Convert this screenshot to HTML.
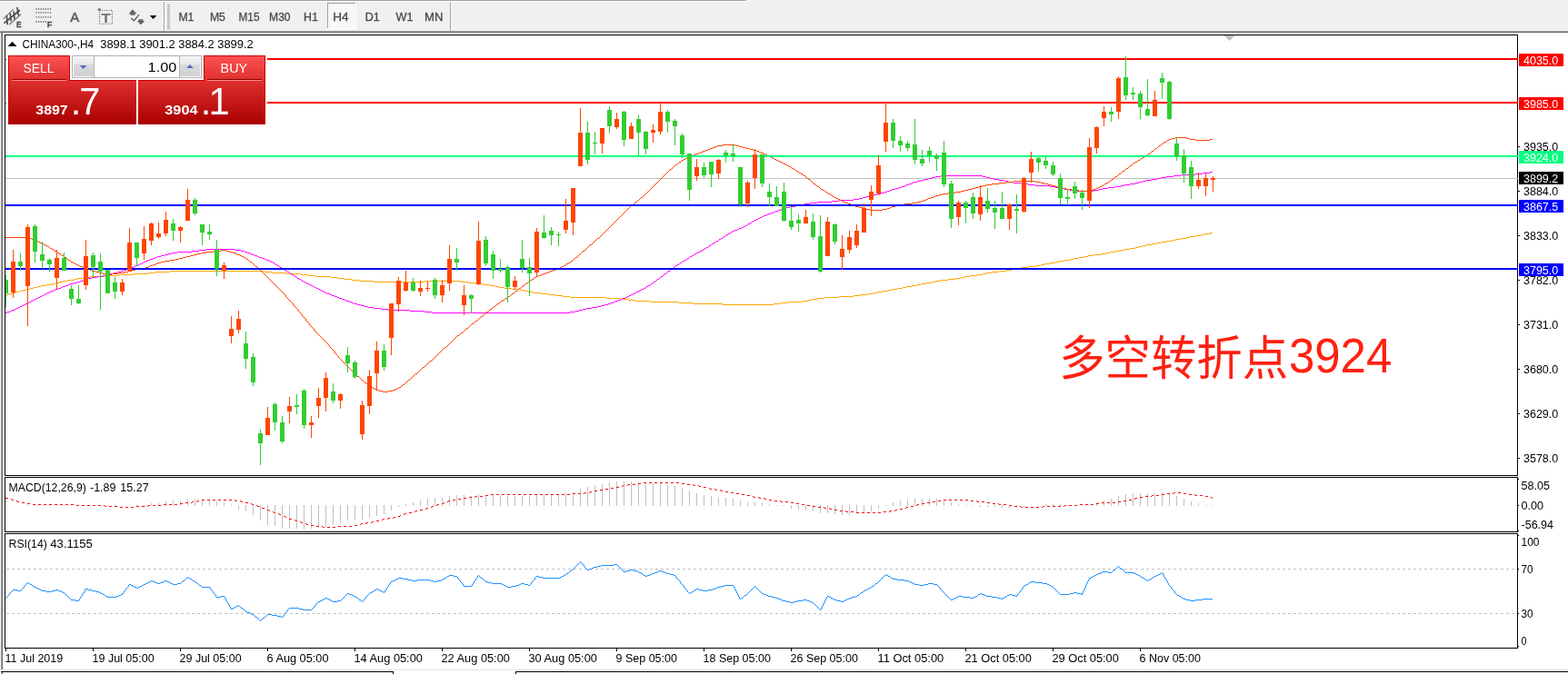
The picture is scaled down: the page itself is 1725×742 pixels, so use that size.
<!DOCTYPE html>
<html lang="zh"><head><meta charset="utf-8"><title>CHINA300-,H4</title>
<style>html,body{margin:0;padding:0;background:#fff;}body{width:1725px;height:742px;overflow:hidden;}svg{display:block;font-family:"Liberation Sans","Noto Sans CJK SC",sans-serif;}.c{shape-rendering:crispEdges;}</style></head><body>
<svg width="1725" height="742" viewBox="0 0 1725 742">
<defs><linearGradient id="gr" x1="0" y1="0" x2="0" y2="1"><stop offset="0" stop-color="#ff5252"/><stop offset="0.36" stop-color="#e03030"/><stop offset="1" stop-color="#aa0000"/></linearGradient><linearGradient id="gb" x1="0" y1="0" x2="0" y2="1"><stop offset="0" stop-color="#f3f3f3"/><stop offset="0.36" stop-color="#e8e8e8"/><stop offset="0.4" stop-color="#dadada"/><stop offset="1" stop-color="#d0d0d0"/></linearGradient><pattern id="chk" width="2" height="2" patternUnits="userSpaceOnUse"><rect width="2" height="2" fill="#f0f0f0"/><rect width="1" height="1" fill="#fff"/><rect x="1" y="1" width="1" height="1" fill="#fff"/></pattern></defs>
<g class="c">
<rect x="0" y="0" width="1725" height="742" fill="#fff"/>
<rect x="0" y="0" width="1725" height="34" fill="#f0f0f0"/>
<rect x="0" y="0" width="821" height="1" fill="#a0a0a0"/>
<rect x="0" y="1" width="822" height="1" fill="#fff"/>
<rect x="821" y="0" width="1" height="2" fill="#fff"/>
<rect x="0" y="34" width="1725" height="1" fill="#a0a0a0"/>
<rect x="0" y="35" width="1725" height="1" fill="#696969"/>
<rect x="0" y="36" width="1" height="702" fill="#f0f0f0"/>
<rect x="1" y="36" width="1" height="701" fill="#a0a0a0"/>
<rect x="2" y="36" width="1" height="701" fill="#696969"/>
<rect x="3" y="737" width="1722" height="1" fill="#e3e3e3"/>
<rect x="3" y="740" width="429" height="2" fill="#f0f0f0"/>
<rect x="568" y="740" width="1157" height="2" fill="#f0f0f0"/>
<rect x="3" y="740" width="429" height="1" fill="#fbfbfb"/>
<rect x="568" y="740" width="1157" height="1" fill="#fbfbfb"/>
<rect x="1" y="739" width="432" height="1" fill="#000"/>
<rect x="567" y="739" width="1158" height="1" fill="#000"/>
<rect x="432" y="739" width="1" height="3" fill="#000"/>
<rect x="567" y="739" width="1" height="3" fill="#000"/>
<rect x="1" y="740" width="1" height="2" fill="#a0a0a0"/>
<rect x="2" y="740" width="1" height="2" fill="#696969"/>
</g>
<g id="toolbar">
<g class="c">
<rect x="180" y="2" width="1" height="32" fill="#a0a0a0"/><rect x="181" y="2" width="1" height="32" fill="#fff"/>
<rect x="495" y="2" width="1" height="32" fill="#a0a0a0"/><rect x="496" y="2" width="1" height="32" fill="#fff"/>
<g fill="#a0a0a0">
<rect x="184" y="5" width="3" height="1"/><rect x="184" y="7" width="3" height="1"/><rect x="184" y="9" width="3" height="1"/><rect x="184" y="11" width="3" height="1"/><rect x="184" y="13" width="3" height="1"/><rect x="184" y="15" width="3" height="1"/><rect x="184" y="17" width="3" height="1"/><rect x="184" y="19" width="3" height="1"/><rect x="184" y="21" width="3" height="1"/><rect x="184" y="23" width="3" height="1"/><rect x="184" y="25" width="3" height="1"/><rect x="184" y="27" width="3" height="1"/><rect x="184" y="29" width="3" height="1"/><rect x="184" y="31" width="3" height="1"/>
</g>
<rect x="360" y="3" width="31" height="29" fill="url(#chk)"/>
<rect x="360" y="3" width="31" height="1" fill="#a0a0a0"/><rect x="360" y="3" width="1" height="29" fill="#a0a0a0"/>
<rect x="360" y="31" width="32" height="1" fill="#fff"/><rect x="391" y="3" width="1" height="29" fill="#fff"/>
</g>
<g font-size="12.1" fill="#4a4a4a" stroke="#4a4a4a" stroke-width="0.3">
<text x="196.4" y="23.2" textLength="17" lengthAdjust="spacingAndGlyphs">M1</text>
<text x="230.9" y="23.2" textLength="17" lengthAdjust="spacingAndGlyphs">M5</text>
<text x="262.5" y="23.2" textLength="23" lengthAdjust="spacingAndGlyphs">M15</text>
<text x="296.1" y="23.2" textLength="23.5" lengthAdjust="spacingAndGlyphs">M30</text>
<text x="334" y="23.2" textLength="15.8" lengthAdjust="spacingAndGlyphs">H1</text>
<text x="366.2" y="23.2" textLength="17.3" lengthAdjust="spacingAndGlyphs">H4</text>
<text x="401.7" y="23.2" textLength="16" lengthAdjust="spacingAndGlyphs">D1</text>
<text x="435.6" y="23.2" textLength="19" lengthAdjust="spacingAndGlyphs">W1</text>
<text x="467" y="23.2" textLength="20.4" lengthAdjust="spacingAndGlyphs">MN</text>
</g>
<!-- icon 1: equidistant channel -->
<g fill="none" stroke-linecap="round">
<path d="M3.9 20.5 L14.6 10.3" stroke="#8c8c8c" stroke-width="1.2"/>
<path d="M10.5 26.7 L22.7 15.9" stroke="#777" stroke-width="1.3"/>
<path d="M5 25.2 L21.4 11.5" stroke="#4e4e4e" stroke-width="1.7"/>
<path d="M7.4 17.6 L8.1 26.4 M11.3 15 L12 22.7 M15.2 13.2 L15.9 20.6 M19 8.6 L20.2 16.6" stroke="#4e4e4e" stroke-width="1.7"/>
</g>
<text x="17.9" y="29.6" font-size="9" font-weight="bold" fill="#4c4c4c" stroke="#4c4c4c" stroke-width="0.3" textLength="5.6" lengthAdjust="spacingAndGlyphs">E</text>
<!-- icon 2: fibo -->
<g stroke="#777" stroke-width="1.8" stroke-dasharray="1.2 1.39" fill="none">
<path d="M39.4 10 H56.5 M39.4 13.9 H56.5 M39.4 18.8 H56.5 M39.4 24 H51"/>
</g>
<text x="51.8" y="29.6" font-size="9" font-weight="bold" fill="#4c4c4c" stroke="#4c4c4c" stroke-width="0.3" textLength="5.6" lengthAdjust="spacingAndGlyphs">F</text>
<!-- icon 3: A -->
<text x="77.2" y="24.2" font-size="15.2" fill="#5e5e5e" stroke="#5e5e5e" stroke-width="0.6" textLength="9.9" lengthAdjust="spacingAndGlyphs">A</text>
<!-- icon 4: T label -->
<rect x="109.5" y="11.5" width="14" height="14.8" fill="none" stroke="#5a5a5a" stroke-width="1.1" stroke-dasharray="1 1.5"/>
<rect x="107.7" y="9.4" width="3" height="2.2" fill="#666"/>
<text x="111.3" y="24.6" font-size="14.7" font-weight="bold" fill="#757575" textLength="10.6" lengthAdjust="spacingAndGlyphs">T</text>
<!-- icon 5: arrows -->
<g fill="#666">
<polygon points="141.4,15.2 145.9,10.3 150.4,15.2 148.4,15.2 148.4,16.7 143.4,16.7 143.4,15.2"/>
<polygon points="150.7,23 159.3,23 154.9,27.3"/><rect x="152.6" y="21.2" width="4.8" height="2"/>
<path d="M144.3 20.2 L147.5 22.8 L152.9 16.1" stroke="#666" stroke-width="1.5" fill="none"/>
</g>
<polygon points="164.7,17 172.4,17 168.55,21.1" fill="#000"/>
</g>

<g class="c">
<rect x="5" y="38" width="1665" height="1" fill="#000"/>
<rect x="5" y="38" width="1" height="486" fill="#000"/>
<rect x="1669" y="38" width="1" height="486" fill="#000"/>
<rect x="5" y="525" width="1" height="61" fill="#000"/>
<rect x="1669" y="525" width="1" height="61" fill="#000"/>
<rect x="5" y="587" width="1" height="127" fill="#000"/>
<rect x="1669" y="587" width="1" height="127" fill="#000"/>
<rect x="5" y="523" width="1665" height="1" fill="#000"/>
<rect x="5" y="525" width="1665" height="1" fill="#000"/>
<rect x="5" y="585" width="1665" height="1" fill="#000"/>
<rect x="5" y="587" width="1665" height="1" fill="#000"/>
<rect x="5" y="713" width="1665" height="1" fill="#000"/>
<polygon points="1346,39 1358,39 1352,45" fill="#c0c0c0"/>
<rect x="6" y="196" width="1664" height="1" fill="#c0c0c0"/>
<g>
<path d="M1331 256.5h3M1325 257.5h6M1321 258.5h4M1315 259.5h6M1309 260.5h6M1305 261.5h4M1299 262.5h6M1293 263.5h6M1289 264.5h4M1283 265.5h6M1277 266.5h6M1273 267.5h4M1267 268.5h6M1261 269.5h6M1257 270.5h4M1253 271.5h4M1249 272.5h4M1243 273.5h6M1237 274.5h6M1233 275.5h4M1227 276.5h6M1221 277.5h6M1217 278.5h4M1211 279.5h6M1203 280.5h8M1197 281.5h6M1193 282.5h4M1187 283.5h6M1181 284.5h6M1177 285.5h4M1171 286.5h6M1165 287.5h6M1161 288.5h4M1155 289.5h6M1149 290.5h6M1145 291.5h4M1139 292.5h6M1131 293.5h8M1123 294.5h8M1117 295.5h6M1113 296.5h4M1107 297.5h6M187 298.5h104M1099 298.5h8M171 299.5h16M291 299.5h8M1091 299.5h8M163 300.5h8M299 300.5h16M1085 300.5h6M147 301.5h16M315 301.5h16M1081 301.5h4M131 302.5h16M331 302.5h8M1075 302.5h6M115 303.5h16M339 303.5h8M1067 303.5h8M99 304.5h16M347 304.5h16M1061 304.5h6M91 305.5h8M363 305.5h8M1057 305.5h4M85 306.5h6M371 306.5h8M1051 306.5h6M81 307.5h4M379 307.5h8M1043 307.5h8M75 308.5h6M387 308.5h8M1035 308.5h8M69 309.5h6M395 309.5h16M467 309.5h40M1029 309.5h6M65 310.5h4M411 310.5h56M507 310.5h8M1025 310.5h4M61 311.5h4M515 311.5h8M1019 311.5h6M57 312.5h4M523 312.5h8M1013 312.5h6M51 313.5h6M531 313.5h8M1009 313.5h4M45 314.5h6M539 314.5h6M1003 314.5h6M41 315.5h4M545 315.5h4M997 315.5h6M37 316.5h4M549 316.5h6M993 316.5h4M33 317.5h4M555 317.5h8M987 317.5h6M29 318.5h4M563 318.5h8M981 318.5h6M25 319.5h4M571 319.5h6M977 319.5h4M21 320.5h4M577 320.5h4M971 320.5h6M17 321.5h4M581 321.5h6M965 321.5h6M13 322.5h4M587 322.5h8M961 322.5h4M9 323.5h4M595 323.5h8M955 323.5h6M6 324.5h3M603 324.5h8M947 324.5h8M611 325.5h8M939 325.5h8M619 326.5h8M923 326.5h16M627 327.5h40M907 327.5h16M667 328.5h16M899 328.5h8M683 329.5h8M893 329.5h6M691 330.5h8M889 330.5h4M699 331.5h16M883 331.5h6M715 332.5h32M867 332.5h16M747 333.5h16M859 333.5h8M763 334.5h32M851 334.5h8M795 335.5h56" fill="none" stroke="#ffa500" stroke-width="1"/>
<path d="M1331 189.5h3M1323 190.5h8M1315 191.5h8M1299 192.5h16M1035 193.5h46M1291 193.5h8M1029 194.5h6M1081 194.5h4M1283 194.5h8M1025 195.5h4M1085 195.5h4M1277 195.5h6M1021 196.5h4M1089 196.5h4M1273 196.5h4M1017 197.5h4M1093 197.5h6M1267 197.5h6M1013 198.5h4M1099 198.5h6M1261 198.5h6M1009 199.5h4M1105 199.5h4M1257 199.5h4M1005 200.5h4M1109 200.5h6M1253 200.5h4M1003 201.5h2M1115 201.5h8M1249 201.5h4M1000 202.5h3M1123 202.5h8M1243 202.5h6M997 203.5h3M1131 203.5h8M1237 203.5h6M995 204.5h2M1139 204.5h16M1233 204.5h4M992 205.5h3M1155 205.5h6M1227 205.5h6M989 206.5h3M1161 206.5h4M1219 206.5h8M985 207.5h4M1165 207.5h6M1213 207.5h6M981 208.5h4M1171 208.5h6M1209 208.5h4M979 209.5h2M1177 209.5h4M1203 209.5h6M976 210.5h3M1181 210.5h22M973 211.5h3M969 212.5h4M965 213.5h4M961 214.5h4M957 215.5h4M953 216.5h4M949 217.5h4M945 218.5h4M939 219.5h6M923 220.5h16M915 221.5h8M899 222.5h16M891 223.5h8M885 224.5h6M881 225.5h4M875 226.5h6M869 227.5h6M865 228.5h4M861 229.5h4M859 230.5h2M856 231.5h3M853 232.5h3M851 233.5h2M848 234.5h3M845 235.5h3M843 236.5h2M840 237.5h3M838 238.5h2M836 239.5h2M834 240.5h2M832 241.5h2M830 242.5h2M828 243.5h2M827 244.5h1M825 245.5h2M823 246.5h2M822 247.5h1M820 248.5h2M818 249.5h2M816 250.5h2M813 251.5h3M811 252.5h2M808 253.5h3M806 254.5h2M804 255.5h2M803 256.5h1M801 257.5h2M799 258.5h2M798 259.5h1M796 260.5h2M795 261.5h1M793 262.5h2M791 263.5h2M790 264.5h1M788 265.5h2M787 266.5h1M785 267.5h2M783 268.5h2M782 269.5h1M780 270.5h2M779 271.5h1M777 272.5h2M775 273.5h2M227 274.5h32M774 274.5h1M219 275.5h8M259 275.5h6M772 275.5h2M211 276.5h8M265 276.5h4M770 276.5h2M195 277.5h16M269 277.5h3M768 277.5h2M189 278.5h6M272 278.5h3M766 278.5h2M185 279.5h4M275 279.5h2M764 279.5h2M181 280.5h4M277 280.5h3M763 280.5h1M177 281.5h4M280 281.5h3M761 281.5h2M173 282.5h4M283 282.5h2M759 282.5h2M171 283.5h2M285 283.5h3M758 283.5h1M168 284.5h3M288 284.5h3M756 284.5h2M165 285.5h3M291 285.5h2M755 285.5h1M163 286.5h2M293 286.5h3M753 286.5h2M160 287.5h3M296 287.5h2M751 287.5h2M158 288.5h2M298 288.5h2M750 288.5h1M156 289.5h2M300 289.5h2M748 289.5h2M154 290.5h2M302 290.5h1M747 290.5h1M152 291.5h2M303 291.5h2M745 291.5h2M149 292.5h3M305 292.5h2M743 292.5h2M147 293.5h2M307 293.5h1M742 293.5h1M144 294.5h3M308 294.5h2M741 294.5h1M141 295.5h3M310 295.5h1M739 295.5h2M139 296.5h2M311 296.5h2M738 296.5h1M136 297.5h3M313 297.5h2M737 297.5h1M133 298.5h3M315 298.5h1M735 298.5h2M129 299.5h4M316 299.5h2M734 299.5h1M125 300.5h4M318 300.5h1M733 300.5h1M121 301.5h4M319 301.5h2M731 301.5h2M117 302.5h4M321 302.5h2M730 302.5h1M113 303.5h4M323 303.5h1M729 303.5h1M107 304.5h6M324 304.5h2M727 304.5h2M101 305.5h6M326 305.5h1M726 305.5h1M97 306.5h4M327 306.5h2M725 306.5h1M93 307.5h4M329 307.5h2M723 307.5h2M91 308.5h2M331 308.5h1M722 308.5h1M88 309.5h3M332 309.5h2M721 309.5h1M85 310.5h3M334 310.5h2M719 310.5h2M81 311.5h4M336 311.5h2M718 311.5h1M77 312.5h4M338 312.5h2M716 312.5h2M75 313.5h2M340 313.5h2M715 313.5h1M72 314.5h3M342 314.5h2M713 314.5h2M69 315.5h3M344 315.5h2M711 315.5h2M67 316.5h2M346 316.5h2M710 316.5h1M64 317.5h3M348 317.5h2M708 317.5h2M61 318.5h3M350 318.5h2M706 318.5h2M59 319.5h2M352 319.5h2M704 319.5h2M56 320.5h3M354 320.5h2M702 320.5h2M54 321.5h2M356 321.5h2M700 321.5h2M52 322.5h2M358 322.5h2M698 322.5h2M50 323.5h2M360 323.5h3M696 323.5h2M48 324.5h2M363 324.5h2M694 324.5h2M46 325.5h2M365 325.5h3M692 325.5h2M44 326.5h2M368 326.5h3M690 326.5h2M42 327.5h2M371 327.5h2M688 327.5h2M40 328.5h2M373 328.5h3M685 328.5h3M38 329.5h2M376 329.5h3M683 329.5h2M36 330.5h2M379 330.5h2M680 330.5h3M34 331.5h2M381 331.5h3M677 331.5h3M32 332.5h2M384 332.5h3M675 332.5h2M30 333.5h2M387 333.5h2M672 333.5h3M28 334.5h2M389 334.5h4M669 334.5h3M26 335.5h2M393 335.5h4M665 335.5h4M24 336.5h2M397 336.5h4M661 336.5h4M22 337.5h2M401 337.5h4M657 337.5h4M20 338.5h2M405 338.5h6M651 338.5h6M18 339.5h2M411 339.5h8M645 339.5h6M16 340.5h2M419 340.5h8M641 340.5h4M13 341.5h3M427 341.5h24M637 341.5h4M11 342.5h2M451 342.5h16M633 342.5h4M8 343.5h3M467 343.5h8M627 343.5h6M6 344.5h2M475 344.5h152" fill="none" stroke="#ff00ff" stroke-width="1"/>
<path d="M1293 151.5h12M1289 152.5h4M1305 152.5h4M1286 153.5h3M1309 153.5h6M1331 153.5h3M1284 154.5h2M1315 154.5h16M1283 155.5h1M1281 156.5h2M1279 157.5h2M1278 158.5h1M795 159.5h14M1277 159.5h1M789 160.5h6M809 160.5h4M1275 160.5h2M787 161.5h2M813 161.5h4M1274 161.5h1M784 162.5h3M817 162.5h4M1273 162.5h1M781 163.5h3M821 163.5h4M1271 163.5h2M779 164.5h2M825 164.5h4M1270 164.5h1M776 165.5h3M829 165.5h3M1269 165.5h1M773 166.5h3M832 166.5h3M1267 166.5h2M771 167.5h2M835 167.5h2M1266 167.5h1M768 168.5h3M837 168.5h3M1265 168.5h1M765 169.5h3M840 169.5h2M1263 169.5h2M763 170.5h2M842 170.5h2M1262 170.5h1M760 171.5h3M844 171.5h2M1260 171.5h2M758 172.5h2M846 172.5h2M1259 172.5h1M756 173.5h2M848 173.5h2M1257 173.5h2M754 174.5h2M850 174.5h2M1255 174.5h2M752 175.5h2M852 175.5h2M1254 175.5h1M750 176.5h2M854 176.5h2M1252 176.5h2M749 177.5h1M856 177.5h2M1251 177.5h1M747 178.5h2M858 178.5h2M1249 178.5h2M746 179.5h1M860 179.5h2M1247 179.5h2M745 180.5h1M862 180.5h2M1246 180.5h1M743 181.5h2M864 181.5h2M1245 181.5h1M742 182.5h1M866 182.5h2M1243 182.5h2M741 183.5h1M868 183.5h2M1242 183.5h1M740 184.5h1M870 184.5h1M1241 184.5h1M739 185.5h1M871 185.5h2M1239 185.5h2M737 186.5h2M873 186.5h2M1238 186.5h1M736 187.5h1M875 187.5h1M1237 187.5h1M735 188.5h1M876 188.5h2M1235 188.5h2M734 189.5h1M878 189.5h1M1234 189.5h1M733 190.5h1M879 190.5h2M1233 190.5h1M732 191.5h1M881 191.5h2M1231 191.5h2M731 192.5h1M883 192.5h1M1230 192.5h1M730 193.5h1M884 193.5h2M1229 193.5h1M729 194.5h1M886 194.5h1M1227 194.5h2M728 195.5h1M887 195.5h1M1226 195.5h1M727 196.5h1M888 196.5h1M1225 196.5h1M726 197.5h1M889 197.5h2M1223 197.5h2M725 198.5h1M891 198.5h1M1222 198.5h1M724 199.5h1M892 199.5h1M1115 199.5h24M1220 199.5h2M723 200.5h1M893 200.5h1M1107 200.5h8M1139 200.5h6M1219 200.5h1M722 201.5h1M894 201.5h1M1099 201.5h8M1145 201.5h4M1217 201.5h2M721 202.5h1M895 202.5h2M1091 202.5h8M1149 202.5h4M1215 202.5h2M720 203.5h1M897 203.5h1M1085 203.5h6M1153 203.5h4M1214 203.5h1M719 204.5h1M898 204.5h1M1081 204.5h4M1157 204.5h4M1212 204.5h2M718 205.5h1M899 205.5h2M1077 205.5h4M1161 205.5h4M1210 205.5h2M717 206.5h1M901 206.5h1M1073 206.5h4M1165 206.5h4M1208 206.5h2M716 207.5h1M902 207.5h1M1069 207.5h4M1169 207.5h4M1205 207.5h3M715 208.5h1M903 208.5h2M1065 208.5h4M1173 208.5h6M1203 208.5h2M714 209.5h1M905 209.5h2M1061 209.5h4M1179 209.5h8M1200 209.5h3M713 210.5h1M907 210.5h1M1057 210.5h4M1187 210.5h13M712 211.5h1M908 211.5h2M1051 211.5h6M711 212.5h1M910 212.5h1M1043 212.5h8M710 213.5h1M911 213.5h2M1037 213.5h6M709 214.5h1M913 214.5h2M1033 214.5h4M708 215.5h1M915 215.5h1M1029 215.5h4M707 216.5h1M916 216.5h2M1027 216.5h2M705 217.5h2M918 217.5h2M1024 217.5h3M704 218.5h1M920 218.5h2M1021 218.5h3M703 219.5h1M922 219.5h2M1019 219.5h2M702 220.5h1M924 220.5h2M1016 220.5h3M701 221.5h1M926 221.5h2M1013 221.5h3M699 222.5h2M928 222.5h3M1009 222.5h4M698 223.5h1M931 223.5h2M1003 223.5h6M697 224.5h1M933 224.5h3M995 224.5h8M695 225.5h2M936 225.5h3M989 225.5h6M694 226.5h1M939 226.5h2M985 226.5h4M693 227.5h1M941 227.5h4M981 227.5h4M692 228.5h1M945 228.5h4M979 228.5h2M691 229.5h1M949 229.5h4M976 229.5h3M690 230.5h1M953 230.5h4M971 230.5h5M689 231.5h1M957 231.5h14M688 232.5h1M687 233.5h1M686 234.5h1M685 235.5h1M684 236.5h1M683 237.5h1M682 238.5h1M681 239.5h1M680 240.5h1M679 241.5h1M678 242.5h1M677 243.5h1M676 244.5h1M675 245.5h1M674 246.5h1M673 247.5h1M672 248.5h1M671 249.5h1M670 250.5h1M669 251.5h1M668 252.5h1M667 253.5h1M666 254.5h1M665 255.5h1M664 256.5h1M663 257.5h1M662 258.5h1M661 259.5h1M660 260.5h1M6 261.5h26M659 261.5h1M32 262.5h3M657 262.5h2M35 263.5h2M656 263.5h1M37 264.5h3M655 264.5h1M40 265.5h2M654 265.5h1M42 266.5h2M653 266.5h1M44 267.5h2M652 267.5h1M46 268.5h2M651 268.5h1M48 269.5h2M649 269.5h2M50 270.5h2M648 270.5h1M52 271.5h2M647 271.5h1M54 272.5h1M646 272.5h1M55 273.5h2M645 273.5h1M57 274.5h2M644 274.5h1M59 275.5h1M243 275.5h6M643 275.5h1M60 276.5h2M235 276.5h8M249 276.5h4M641 276.5h2M62 277.5h1M227 277.5h8M253 277.5h3M640 277.5h1M63 278.5h2M221 278.5h6M256 278.5h3M639 278.5h1M65 279.5h2M217 279.5h4M259 279.5h2M638 279.5h1M67 280.5h1M213 280.5h4M261 280.5h3M637 280.5h1M68 281.5h2M209 281.5h4M264 281.5h2M636 281.5h1M70 282.5h1M205 282.5h4M266 282.5h2M635 282.5h1M71 283.5h2M201 283.5h4M268 283.5h2M633 283.5h2M73 284.5h1M197 284.5h4M270 284.5h1M632 284.5h1M74 285.5h1M193 285.5h4M271 285.5h2M631 285.5h1M75 286.5h2M187 286.5h6M273 286.5h1M630 286.5h1M77 287.5h1M181 287.5h6M274 287.5h1M628 287.5h2M78 288.5h2M177 288.5h4M275 288.5h2M627 288.5h1M80 289.5h2M173 289.5h4M277 289.5h1M625 289.5h2M82 290.5h2M171 290.5h2M278 290.5h1M623 290.5h2M84 291.5h2M168 291.5h3M279 291.5h1M622 291.5h1M86 292.5h2M165 292.5h3M280 292.5h1M620 292.5h2M88 293.5h3M163 293.5h2M281 293.5h2M618 293.5h2M91 294.5h2M160 294.5h3M283 294.5h1M616 294.5h2M93 295.5h3M155 295.5h5M284 295.5h1M613 295.5h3M96 296.5h3M149 296.5h6M285 296.5h1M611 296.5h2M99 297.5h2M145 297.5h4M286 297.5h1M608 297.5h3M101 298.5h4M141 298.5h4M287 298.5h1M605 298.5h3M105 299.5h4M137 299.5h4M288 299.5h1M603 299.5h2M109 300.5h4M131 300.5h6M289 300.5h1M600 300.5h3M113 301.5h4M123 301.5h8M290 301.5h1M597 301.5h3M117 302.5h6M291 302.5h1M595 302.5h2M292 303.5h1M592 303.5h3M293 304.5h1M590 304.5h2M294 305.5h1M588 305.5h2M295 306.5h1M587 306.5h1M296 307.5h1M585 307.5h2M297 308.5h1M583 308.5h2M298 309.5h1M582 309.5h1M299 310.5h1M581 310.5h1M300 311.5h1M579 311.5h2M301 312.5h1M578 312.5h1M302 313.5h1M577 313.5h1M303 314.5h1M575 314.5h2M304 315.5h1M574 315.5h1M305 316.5h1M573 316.5h1M306 317.5h1M571 317.5h2M307 318.5h1M570 318.5h1M308 319.5h1M569 319.5h1M309 320.5h1M567 320.5h2M310 321.5h1M566 321.5h1M311 322.5h1M565 322.5h1M312 323.5h1M563 323.5h2M313 324.5h1M562 324.5h1M314.5 325v2M561 325.5h1M559 326.5h2M315 327.5h1M558 327.5h1M316 328.5h1M556 328.5h2M317 329.5h1M555 329.5h1M318 330.5h1M553 330.5h2M319 331.5h1M551 331.5h2M320 332.5h1M550 332.5h1M321 333.5h1M549 333.5h1M322.5 334v2M547 334.5h2M546 335.5h1M323 336.5h1M545 336.5h1M324 337.5h1M543 337.5h2M325 338.5h1M542 338.5h1M326 339.5h1M541 339.5h1M327 340.5h1M539 340.5h2M328.5 341v2M538 341.5h1M537 342.5h1M329 343.5h1M535 343.5h2M330 344.5h1M534 344.5h1M331 345.5h1M533 345.5h1M332.5 346v2M532 346.5h1M531 347.5h1M333 348.5h1M529 348.5h2M334 349.5h1M528 349.5h1M335 350.5h1M527 350.5h1M336.5 351v2M526 351.5h1M525 352.5h1M337 353.5h1M523 353.5h2M338 354.5h1M522 354.5h1M339 355.5h1M521 355.5h1M340.5 356v2M519 356.5h2M518 357.5h1M341 358.5h1M517 358.5h1M342 359.5h1M516 359.5h1M343 360.5h1M515 360.5h1M344 361.5h1M513 361.5h2M345 362.5h1M512 362.5h1M346.5 363v2M511 363.5h1M510 364.5h1M347 365.5h1M509 365.5h1M348 366.5h1M507 366.5h2M349 367.5h1M506 367.5h1M350 368.5h1M505 368.5h1M351 369.5h1M503 369.5h2M352 370.5h1M502 370.5h1M353 371.5h1M501 371.5h1M354 372.5h1M500 372.5h1M355 373.5h1M499 373.5h1M356 374.5h1M498 374.5h1M357 375.5h1M497 375.5h1M358 376.5h1M496 376.5h1M359 377.5h1M495 377.5h1M360 378.5h1M494 378.5h1M361 379.5h1M493 379.5h1M362.5 380v2M492 380.5h1M491 381.5h1M363 382.5h1M489 382.5h2M364 383.5h1M488 383.5h1M365 384.5h1M487 384.5h1M366 385.5h1M486 385.5h1M367 386.5h1M485 386.5h1M368.5 387v2M484 387.5h1M483 388.5h1M369 389.5h1M482 389.5h1M370 390.5h1M481 390.5h1M371 391.5h1M480 391.5h1M372.5 392v2M479 392.5h1M478 393.5h1M373 394.5h1M477 394.5h1M374 395.5h1M476 395.5h1M375 396.5h1M475 396.5h1M376 397.5h1M473 397.5h2M377 398.5h1M472 398.5h1M378 399.5h1M471 399.5h1M379 400.5h1M470 400.5h1M380 401.5h1M469 401.5h1M381 402.5h1M468 402.5h1M382 403.5h1M467 403.5h1M383 404.5h1M465 404.5h2M384 405.5h1M464 405.5h1M385 406.5h1M463 406.5h1M386 407.5h1M462 407.5h1M387 408.5h1M461 408.5h1M388 409.5h1M460 409.5h1M389 410.5h1M459 410.5h1M390 411.5h1M457 411.5h2M391 412.5h1M456 412.5h1M392 413.5h1M455 413.5h1M393 414.5h2M454 414.5h1M395 415.5h1M453 415.5h1M396 416.5h1M452 416.5h1M397 417.5h1M451 417.5h1M398 418.5h1M449 418.5h2M399 419.5h1M448 419.5h1M400 420.5h1M447 420.5h1M401 421.5h2M446 421.5h1M403 422.5h1M445 422.5h1M404 423.5h1M443 423.5h2M405 424.5h1M442 424.5h1M406 425.5h2M441 425.5h1M408 426.5h2M439 426.5h2M410 427.5h2M437 427.5h2M412 428.5h2M435 428.5h2M414 429.5h3M432 429.5h3M417 430.5h4M427 430.5h5M421 431.5h6" fill="none" stroke="#ff4500" stroke-width="1"/>
</g>
<rect x="6" y="64" width="1664" height="2" fill="#ff0000"/>
<rect x="6" y="112" width="1664" height="2" fill="#ff0000"/>
<rect x="6" y="171" width="1664" height="2" fill="#00ff7f"/>
<rect x="6" y="225" width="1664" height="2" fill="#0000ff"/>
<rect x="6" y="295" width="1664" height="2" fill="#0000ff"/>
<rect x="6" y="303" width="1" height="35" fill="#32cd32"/>
<rect x="6" y="308" width="3" height="15" fill="#32cd32"/>
<rect x="14" y="275" width="1" height="53" fill="#ff4500"/>
<rect x="12" y="288" width="5" height="34" fill="#ff4500"/>
<rect x="22" y="279" width="1" height="19" fill="#32cd32"/>
<rect x="20" y="288" width="5" height="5" fill="#32cd32"/>
<rect x="30" y="247" width="1" height="112" fill="#ff4500"/>
<rect x="28" y="250" width="5" height="65" fill="#ff4500"/>
<rect x="38" y="247" width="1" height="42" fill="#32cd32"/>
<rect x="36" y="249" width="5" height="28" fill="#32cd32"/>
<rect x="46" y="266" width="1" height="30" fill="#32cd32"/>
<rect x="44" y="280" width="5" height="7" fill="#32cd32"/>
<rect x="54" y="284" width="1" height="15" fill="#32cd32"/>
<rect x="52" y="286" width="5" height="5" fill="#32cd32"/>
<rect x="62" y="275" width="1" height="43" fill="#ff4500"/>
<rect x="60" y="284" width="5" height="22" fill="#ff4500"/>
<rect x="70" y="278" width="1" height="20" fill="#32cd32"/>
<rect x="68" y="284" width="5" height="14" fill="#32cd32"/>
<rect x="78" y="314" width="1" height="22" fill="#32cd32"/>
<rect x="76" y="318" width="5" height="11" fill="#32cd32"/>
<rect x="86" y="314" width="1" height="21" fill="#32cd32"/>
<rect x="84" y="329" width="5" height="5" fill="#32cd32"/>
<rect x="94" y="264" width="1" height="55" fill="#ff4500"/>
<rect x="92" y="282" width="5" height="32" fill="#ff4500"/>
<rect x="102" y="278" width="1" height="27" fill="#32cd32"/>
<rect x="100" y="281" width="5" height="13" fill="#32cd32"/>
<rect x="110" y="279" width="1" height="62" fill="#32cd32"/>
<rect x="108" y="288" width="5" height="11" fill="#32cd32"/>
<rect x="118" y="297" width="1" height="26" fill="#32cd32"/>
<rect x="116" y="297" width="5" height="26" fill="#32cd32"/>
<rect x="126" y="305" width="1" height="24" fill="#32cd32"/>
<rect x="124" y="311" width="5" height="10" fill="#32cd32"/>
<rect x="134" y="307" width="1" height="18" fill="#ff4500"/>
<rect x="132" y="311" width="5" height="10" fill="#ff4500"/>
<rect x="142" y="251" width="1" height="47" fill="#ff4500"/>
<rect x="140" y="267" width="5" height="31" fill="#ff4500"/>
<rect x="150" y="267" width="1" height="26" fill="#32cd32"/>
<rect x="148" y="267" width="5" height="17" fill="#32cd32"/>
<rect x="158" y="249" width="1" height="37" fill="#ff4500"/>
<rect x="156" y="263" width="5" height="16" fill="#ff4500"/>
<rect x="166" y="245" width="1" height="25" fill="#ff4500"/>
<rect x="164" y="246" width="5" height="19" fill="#ff4500"/>
<rect x="174" y="245" width="1" height="18" fill="#ff4500"/>
<rect x="172" y="257" width="5" height="4" fill="#ff4500"/>
<rect x="182" y="233" width="1" height="27" fill="#ff4500"/>
<rect x="180" y="242" width="5" height="15" fill="#ff4500"/>
<rect x="190" y="241" width="1" height="24" fill="#32cd32"/>
<rect x="188" y="246" width="5" height="8" fill="#32cd32"/>
<rect x="198" y="249" width="1" height="18" fill="#ff4500"/>
<rect x="196" y="250" width="5" height="4" fill="#ff4500"/>
<rect x="206" y="208" width="1" height="35" fill="#ff4500"/>
<rect x="204" y="220" width="5" height="23" fill="#ff4500"/>
<rect x="214" y="218" width="1" height="19" fill="#32cd32"/>
<rect x="212" y="220" width="5" height="15" fill="#32cd32"/>
<rect x="222" y="247" width="1" height="23" fill="#32cd32"/>
<rect x="220" y="247" width="5" height="9" fill="#32cd32"/>
<rect x="230" y="247" width="1" height="17" fill="#32cd32"/>
<rect x="228" y="255" width="5" height="3" fill="#32cd32"/>
<rect x="238" y="264" width="1" height="40" fill="#32cd32"/>
<rect x="236" y="275" width="5" height="21" fill="#32cd32"/>
<rect x="246" y="289" width="1" height="18" fill="#ff4500"/>
<rect x="244" y="292" width="5" height="6" fill="#ff4500"/>
<rect x="254" y="348" width="1" height="30" fill="#ff4500"/>
<rect x="252" y="362" width="5" height="8" fill="#ff4500"/>
<rect x="262" y="342" width="1" height="25" fill="#ff4500"/>
<rect x="260" y="351" width="5" height="12" fill="#ff4500"/>
<rect x="270" y="365" width="1" height="41" fill="#32cd32"/>
<rect x="268" y="378" width="5" height="17" fill="#32cd32"/>
<rect x="278" y="389" width="1" height="36" fill="#32cd32"/>
<rect x="276" y="393" width="5" height="28" fill="#32cd32"/>
<rect x="286" y="473" width="1" height="39" fill="#32cd32"/>
<rect x="284" y="477" width="5" height="11" fill="#32cd32"/>
<rect x="294" y="448" width="1" height="31" fill="#ff4500"/>
<rect x="292" y="460" width="5" height="19" fill="#ff4500"/>
<rect x="302" y="443" width="1" height="31" fill="#32cd32"/>
<rect x="300" y="445" width="5" height="20" fill="#32cd32"/>
<rect x="310" y="458" width="1" height="30" fill="#32cd32"/>
<rect x="308" y="465" width="5" height="21" fill="#32cd32"/>
<rect x="318" y="437" width="1" height="29" fill="#ff4500"/>
<rect x="316" y="447" width="5" height="6" fill="#ff4500"/>
<rect x="326" y="434" width="1" height="22" fill="#32cd32"/>
<rect x="324" y="446" width="5" height="2" fill="#32cd32"/>
<rect x="334" y="428" width="1" height="44" fill="#32cd32"/>
<rect x="332" y="430" width="5" height="38" fill="#32cd32"/>
<rect x="342" y="458" width="1" height="24" fill="#ff4500"/>
<rect x="340" y="465" width="5" height="3" fill="#ff4500"/>
<rect x="350" y="427" width="1" height="33" fill="#ff4500"/>
<rect x="348" y="438" width="5" height="9" fill="#ff4500"/>
<rect x="358" y="410" width="1" height="43" fill="#ff4500"/>
<rect x="356" y="416" width="5" height="22" fill="#ff4500"/>
<rect x="366" y="422" width="1" height="22" fill="#32cd32"/>
<rect x="364" y="431" width="5" height="10" fill="#32cd32"/>
<rect x="374" y="433" width="1" height="17" fill="#ff4500"/>
<rect x="372" y="434" width="5" height="7" fill="#ff4500"/>
<rect x="382" y="382" width="1" height="28" fill="#32cd32"/>
<rect x="380" y="391" width="5" height="9" fill="#32cd32"/>
<rect x="390" y="397" width="1" height="20" fill="#32cd32"/>
<rect x="388" y="399" width="5" height="16" fill="#32cd32"/>
<rect x="398" y="441" width="1" height="43" fill="#ff4500"/>
<rect x="396" y="446" width="5" height="32" fill="#ff4500"/>
<rect x="406" y="407" width="1" height="49" fill="#ff4500"/>
<rect x="404" y="414" width="5" height="33" fill="#ff4500"/>
<rect x="414" y="376" width="1" height="53" fill="#ff4500"/>
<rect x="412" y="386" width="5" height="25" fill="#ff4500"/>
<rect x="422" y="379" width="1" height="29" fill="#32cd32"/>
<rect x="420" y="386" width="5" height="18" fill="#32cd32"/>
<rect x="430" y="334" width="1" height="57" fill="#ff4500"/>
<rect x="428" y="334" width="5" height="38" fill="#ff4500"/>
<rect x="438" y="305" width="1" height="38" fill="#ff4500"/>
<rect x="436" y="309" width="5" height="26" fill="#ff4500"/>
<rect x="446" y="298" width="1" height="23" fill="#ff4500"/>
<rect x="444" y="311" width="5" height="9" fill="#ff4500"/>
<rect x="454" y="306" width="1" height="15" fill="#32cd32"/>
<rect x="452" y="311" width="5" height="9" fill="#32cd32"/>
<rect x="462" y="309" width="1" height="17" fill="#ff4500"/>
<rect x="460" y="317" width="5" height="4" fill="#ff4500"/>
<rect x="470" y="310" width="1" height="11" fill="#ff4500"/>
<rect x="468" y="317" width="5" height="1" fill="#ff4500"/>
<rect x="478" y="306" width="1" height="23" fill="#32cd32"/>
<rect x="476" y="308" width="5" height="17" fill="#32cd32"/>
<rect x="486" y="308" width="1" height="25" fill="#ff4500"/>
<rect x="484" y="314" width="5" height="11" fill="#ff4500"/>
<rect x="494" y="270" width="1" height="50" fill="#ff4500"/>
<rect x="492" y="285" width="5" height="27" fill="#ff4500"/>
<rect x="502" y="273" width="1" height="25" fill="#32cd32"/>
<rect x="500" y="285" width="5" height="4" fill="#32cd32"/>
<rect x="510" y="314" width="1" height="33" fill="#ff4500"/>
<rect x="508" y="325" width="5" height="11" fill="#ff4500"/>
<rect x="518" y="324" width="1" height="21" fill="#32cd32"/>
<rect x="516" y="325" width="5" height="4" fill="#32cd32"/>
<rect x="526" y="244" width="1" height="70" fill="#ff4500"/>
<rect x="524" y="265" width="5" height="48" fill="#ff4500"/>
<rect x="534" y="260" width="1" height="33" fill="#32cd32"/>
<rect x="532" y="264" width="5" height="26" fill="#32cd32"/>
<rect x="542" y="276" width="1" height="31" fill="#32cd32"/>
<rect x="540" y="280" width="5" height="18" fill="#32cd32"/>
<rect x="550" y="285" width="1" height="15" fill="#32cd32"/>
<rect x="548" y="296" width="5" height="2" fill="#32cd32"/>
<rect x="558" y="292" width="1" height="41" fill="#32cd32"/>
<rect x="556" y="294" width="5" height="22" fill="#32cd32"/>
<rect x="566" y="304" width="1" height="15" fill="#ff4500"/>
<rect x="564" y="309" width="5" height="7" fill="#ff4500"/>
<rect x="574" y="264" width="1" height="36" fill="#32cd32"/>
<rect x="572" y="285" width="5" height="10" fill="#32cd32"/>
<rect x="582" y="284" width="1" height="42" fill="#32cd32"/>
<rect x="580" y="294" width="5" height="7" fill="#32cd32"/>
<rect x="590" y="251" width="1" height="53" fill="#ff4500"/>
<rect x="588" y="255" width="5" height="45" fill="#ff4500"/>
<rect x="598" y="237" width="1" height="26" fill="#32cd32"/>
<rect x="596" y="256" width="5" height="6" fill="#32cd32"/>
<rect x="606" y="250" width="1" height="20" fill="#32cd32"/>
<rect x="604" y="254" width="5" height="5" fill="#32cd32"/>
<rect x="614" y="255" width="1" height="16" fill="#32cd32"/>
<rect x="612" y="258" width="5" height="1" fill="#32cd32"/>
<rect x="622" y="219" width="1" height="38" fill="#ff4500"/>
<rect x="620" y="243" width="5" height="10" fill="#ff4500"/>
<rect x="630" y="207" width="1" height="52" fill="#ff4500"/>
<rect x="628" y="207" width="5" height="38" fill="#ff4500"/>
<rect x="638" y="119" width="1" height="64" fill="#ff4500"/>
<rect x="636" y="146" width="5" height="37" fill="#ff4500"/>
<rect x="646" y="134" width="1" height="47" fill="#32cd32"/>
<rect x="644" y="146" width="5" height="30" fill="#32cd32"/>
<rect x="654" y="145" width="1" height="25" fill="#32cd32"/>
<rect x="652" y="157" width="5" height="1" fill="#32cd32"/>
<rect x="662" y="141" width="1" height="28" fill="#ff4500"/>
<rect x="660" y="141" width="5" height="17" fill="#ff4500"/>
<rect x="670" y="117" width="1" height="30" fill="#32cd32"/>
<rect x="668" y="121" width="5" height="18" fill="#32cd32"/>
<rect x="678" y="124" width="1" height="18" fill="#ff4500"/>
<rect x="676" y="131" width="5" height="9" fill="#ff4500"/>
<rect x="686" y="122" width="1" height="39" fill="#32cd32"/>
<rect x="684" y="123" width="5" height="31" fill="#32cd32"/>
<rect x="694" y="135" width="1" height="18" fill="#ff4500"/>
<rect x="692" y="139" width="5" height="14" fill="#ff4500"/>
<rect x="702" y="127" width="1" height="44" fill="#32cd32"/>
<rect x="700" y="131" width="5" height="15" fill="#32cd32"/>
<rect x="710" y="144" width="1" height="26" fill="#32cd32"/>
<rect x="708" y="145" width="5" height="19" fill="#32cd32"/>
<rect x="718" y="137" width="1" height="20" fill="#ff4500"/>
<rect x="716" y="143" width="5" height="3" fill="#ff4500"/>
<rect x="726" y="113" width="1" height="35" fill="#ff4500"/>
<rect x="724" y="123" width="5" height="22" fill="#ff4500"/>
<rect x="734" y="121" width="1" height="25" fill="#32cd32"/>
<rect x="732" y="123" width="5" height="11" fill="#32cd32"/>
<rect x="742" y="131" width="1" height="29" fill="#32cd32"/>
<rect x="740" y="133" width="5" height="6" fill="#32cd32"/>
<rect x="750" y="147" width="1" height="27" fill="#32cd32"/>
<rect x="748" y="149" width="5" height="21" fill="#32cd32"/>
<rect x="758" y="169" width="1" height="52" fill="#32cd32"/>
<rect x="756" y="169" width="5" height="40" fill="#32cd32"/>
<rect x="766" y="175" width="1" height="24" fill="#ff4500"/>
<rect x="764" y="184" width="5" height="10" fill="#ff4500"/>
<rect x="774" y="179" width="1" height="17" fill="#32cd32"/>
<rect x="772" y="184" width="5" height="9" fill="#32cd32"/>
<rect x="782" y="178" width="1" height="28" fill="#32cd32"/>
<rect x="780" y="178" width="5" height="14" fill="#32cd32"/>
<rect x="790" y="175" width="1" height="22" fill="#ff4500"/>
<rect x="788" y="176" width="5" height="15" fill="#ff4500"/>
<rect x="798" y="165" width="1" height="14" fill="#32cd32"/>
<rect x="796" y="168" width="5" height="3" fill="#32cd32"/>
<rect x="806" y="159" width="1" height="19" fill="#32cd32"/>
<rect x="804" y="169" width="5" height="3" fill="#32cd32"/>
<rect x="814" y="184" width="1" height="44" fill="#32cd32"/>
<rect x="812" y="184" width="5" height="41" fill="#32cd32"/>
<rect x="822" y="199" width="1" height="29" fill="#ff4500"/>
<rect x="820" y="201" width="5" height="23" fill="#ff4500"/>
<rect x="830" y="164" width="1" height="44" fill="#ff4500"/>
<rect x="828" y="170" width="5" height="26" fill="#ff4500"/>
<rect x="838" y="170" width="1" height="36" fill="#32cd32"/>
<rect x="836" y="170" width="5" height="32" fill="#32cd32"/>
<rect x="846" y="202" width="1" height="25" fill="#32cd32"/>
<rect x="844" y="211" width="5" height="6" fill="#32cd32"/>
<rect x="854" y="205" width="1" height="22" fill="#32cd32"/>
<rect x="852" y="217" width="5" height="10" fill="#32cd32"/>
<rect x="862" y="201" width="1" height="43" fill="#32cd32"/>
<rect x="860" y="211" width="5" height="32" fill="#32cd32"/>
<rect x="870" y="227" width="1" height="26" fill="#32cd32"/>
<rect x="868" y="243" width="5" height="7" fill="#32cd32"/>
<rect x="878" y="236" width="1" height="19" fill="#32cd32"/>
<rect x="876" y="242" width="5" height="4" fill="#32cd32"/>
<rect x="886" y="231" width="1" height="15" fill="#ff4500"/>
<rect x="884" y="239" width="5" height="7" fill="#ff4500"/>
<rect x="894" y="235" width="1" height="29" fill="#32cd32"/>
<rect x="892" y="244" width="5" height="17" fill="#32cd32"/>
<rect x="902" y="237" width="1" height="63" fill="#32cd32"/>
<rect x="900" y="260" width="5" height="39" fill="#32cd32"/>
<rect x="910" y="239" width="1" height="43" fill="#ff4500"/>
<rect x="908" y="244" width="5" height="38" fill="#ff4500"/>
<rect x="918" y="246" width="1" height="23" fill="#32cd32"/>
<rect x="916" y="247" width="5" height="19" fill="#32cd32"/>
<rect x="926" y="259" width="1" height="38" fill="#ff4500"/>
<rect x="924" y="274" width="5" height="9" fill="#ff4500"/>
<rect x="934" y="254" width="1" height="25" fill="#ff4500"/>
<rect x="932" y="261" width="5" height="14" fill="#ff4500"/>
<rect x="942" y="247" width="1" height="26" fill="#ff4500"/>
<rect x="940" y="254" width="5" height="16" fill="#ff4500"/>
<rect x="950" y="224" width="1" height="32" fill="#ff4500"/>
<rect x="948" y="229" width="5" height="27" fill="#ff4500"/>
<rect x="958" y="204" width="1" height="34" fill="#ff4500"/>
<rect x="956" y="211" width="5" height="9" fill="#ff4500"/>
<rect x="966" y="171" width="1" height="44" fill="#ff4500"/>
<rect x="964" y="182" width="5" height="31" fill="#ff4500"/>
<rect x="974" y="113" width="1" height="54" fill="#ff4500"/>
<rect x="972" y="135" width="5" height="21" fill="#ff4500"/>
<rect x="982" y="131" width="1" height="32" fill="#32cd32"/>
<rect x="980" y="135" width="5" height="20" fill="#32cd32"/>
<rect x="990" y="150" width="1" height="17" fill="#32cd32"/>
<rect x="988" y="155" width="5" height="5" fill="#32cd32"/>
<rect x="998" y="155" width="1" height="11" fill="#32cd32"/>
<rect x="996" y="158" width="5" height="5" fill="#32cd32"/>
<rect x="1006" y="131" width="1" height="50" fill="#32cd32"/>
<rect x="1004" y="159" width="5" height="17" fill="#32cd32"/>
<rect x="1014" y="165" width="1" height="18" fill="#32cd32"/>
<rect x="1012" y="175" width="5" height="5" fill="#32cd32"/>
<rect x="1022" y="162" width="1" height="16" fill="#32cd32"/>
<rect x="1020" y="166" width="5" height="5" fill="#32cd32"/>
<rect x="1030" y="169" width="1" height="19" fill="#32cd32"/>
<rect x="1028" y="171" width="5" height="4" fill="#32cd32"/>
<rect x="1038" y="155" width="1" height="51" fill="#32cd32"/>
<rect x="1036" y="168" width="5" height="35" fill="#32cd32"/>
<rect x="1046" y="199" width="1" height="52" fill="#32cd32"/>
<rect x="1044" y="202" width="5" height="39" fill="#32cd32"/>
<rect x="1054" y="221" width="1" height="27" fill="#ff4500"/>
<rect x="1052" y="223" width="5" height="16" fill="#ff4500"/>
<rect x="1062" y="221" width="1" height="25" fill="#32cd32"/>
<rect x="1060" y="223" width="5" height="6" fill="#32cd32"/>
<rect x="1070" y="212" width="1" height="29" fill="#32cd32"/>
<rect x="1068" y="217" width="5" height="18" fill="#32cd32"/>
<rect x="1078" y="204" width="1" height="39" fill="#ff4500"/>
<rect x="1076" y="217" width="5" height="19" fill="#ff4500"/>
<rect x="1086" y="207" width="1" height="27" fill="#32cd32"/>
<rect x="1084" y="221" width="5" height="9" fill="#32cd32"/>
<rect x="1094" y="221" width="1" height="31" fill="#32cd32"/>
<rect x="1092" y="229" width="5" height="5" fill="#32cd32"/>
<rect x="1102" y="211" width="1" height="30" fill="#32cd32"/>
<rect x="1100" y="229" width="5" height="12" fill="#32cd32"/>
<rect x="1110" y="224" width="1" height="29" fill="#ff4500"/>
<rect x="1108" y="225" width="5" height="16" fill="#ff4500"/>
<rect x="1118" y="214" width="1" height="43" fill="#32cd32"/>
<rect x="1116" y="230" width="5" height="2" fill="#32cd32"/>
<rect x="1126" y="195" width="1" height="39" fill="#ff4500"/>
<rect x="1124" y="196" width="5" height="37" fill="#ff4500"/>
<rect x="1134" y="167" width="1" height="34" fill="#ff4500"/>
<rect x="1132" y="175" width="5" height="15" fill="#ff4500"/>
<rect x="1142" y="173" width="1" height="16" fill="#32cd32"/>
<rect x="1140" y="174" width="5" height="5" fill="#32cd32"/>
<rect x="1150" y="173" width="1" height="13" fill="#32cd32"/>
<rect x="1148" y="177" width="5" height="5" fill="#32cd32"/>
<rect x="1158" y="178" width="1" height="16" fill="#32cd32"/>
<rect x="1156" y="182" width="5" height="10" fill="#32cd32"/>
<rect x="1166" y="191" width="1" height="34" fill="#32cd32"/>
<rect x="1164" y="196" width="5" height="22" fill="#32cd32"/>
<rect x="1174" y="208" width="1" height="18" fill="#32cd32"/>
<rect x="1172" y="217" width="5" height="2" fill="#32cd32"/>
<rect x="1182" y="200" width="1" height="19" fill="#32cd32"/>
<rect x="1180" y="205" width="5" height="8" fill="#32cd32"/>
<rect x="1190" y="209" width="1" height="22" fill="#32cd32"/>
<rect x="1188" y="212" width="5" height="6" fill="#32cd32"/>
<rect x="1198" y="152" width="1" height="77" fill="#ff4500"/>
<rect x="1196" y="162" width="5" height="59" fill="#ff4500"/>
<rect x="1206" y="139" width="1" height="30" fill="#ff4500"/>
<rect x="1204" y="140" width="5" height="23" fill="#ff4500"/>
<rect x="1214" y="117" width="1" height="22" fill="#ff4500"/>
<rect x="1212" y="123" width="5" height="7" fill="#ff4500"/>
<rect x="1222" y="118" width="1" height="16" fill="#32cd32"/>
<rect x="1220" y="123" width="5" height="3" fill="#32cd32"/>
<rect x="1230" y="84" width="1" height="47" fill="#ff4500"/>
<rect x="1228" y="86" width="5" height="37" fill="#ff4500"/>
<rect x="1238" y="62" width="1" height="48" fill="#32cd32"/>
<rect x="1236" y="85" width="5" height="20" fill="#32cd32"/>
<rect x="1246" y="96" width="1" height="14" fill="#32cd32"/>
<rect x="1244" y="102" width="5" height="2" fill="#32cd32"/>
<rect x="1254" y="100" width="1" height="31" fill="#32cd32"/>
<rect x="1252" y="103" width="5" height="15" fill="#32cd32"/>
<rect x="1262" y="87" width="1" height="41" fill="#32cd32"/>
<rect x="1260" y="120" width="5" height="7" fill="#32cd32"/>
<rect x="1270" y="100" width="1" height="28" fill="#ff4500"/>
<rect x="1268" y="110" width="5" height="18" fill="#ff4500"/>
<rect x="1278" y="80" width="1" height="29" fill="#32cd32"/>
<rect x="1276" y="86" width="5" height="5" fill="#32cd32"/>
<rect x="1286" y="89" width="1" height="43" fill="#32cd32"/>
<rect x="1284" y="90" width="5" height="41" fill="#32cd32"/>
<rect x="1294" y="151" width="1" height="26" fill="#32cd32"/>
<rect x="1292" y="158" width="5" height="14" fill="#32cd32"/>
<rect x="1302" y="164" width="1" height="37" fill="#32cd32"/>
<rect x="1300" y="171" width="5" height="20" fill="#32cd32"/>
<rect x="1310" y="177" width="1" height="42" fill="#32cd32"/>
<rect x="1308" y="184" width="5" height="21" fill="#32cd32"/>
<rect x="1318" y="190" width="1" height="18" fill="#ff4500"/>
<rect x="1316" y="198" width="5" height="7" fill="#ff4500"/>
<rect x="1326" y="191" width="1" height="25" fill="#ff4500"/>
<rect x="1324" y="196" width="5" height="9" fill="#ff4500"/>
<rect x="1334" y="194" width="1" height="17" fill="#ff4500"/>
<rect x="1332" y="196" width="5" height="2" fill="#ff4500"/>
<rect x="30" y="556" width="1" height="1" fill="#c0c0c0"/>
<rect x="38" y="556" width="1" height="1" fill="#c0c0c0"/>
<rect x="46" y="556" width="1" height="1" fill="#c0c0c0"/>
<rect x="54" y="556" width="1" height="1" fill="#c0c0c0"/>
<rect x="62" y="556" width="1" height="1" fill="#c0c0c0"/>
<rect x="70" y="556" width="1" height="1" fill="#c0c0c0"/>
<rect x="78" y="556" width="1" height="1" fill="#c0c0c0"/>
<rect x="86" y="556" width="1" height="1" fill="#c0c0c0"/>
<rect x="94" y="556" width="1" height="1" fill="#c0c0c0"/>
<rect x="102" y="556" width="1" height="1" fill="#c0c0c0"/>
<rect x="110" y="556" width="1" height="1" fill="#c0c0c0"/>
<rect x="118" y="556" width="1" height="1" fill="#c0c0c0"/>
<rect x="126" y="556" width="1" height="1" fill="#c0c0c0"/>
<rect x="134" y="556" width="1" height="1" fill="#c0c0c0"/>
<rect x="142" y="556" width="1" height="1" fill="#c0c0c0"/>
<rect x="150" y="556" width="1" height="1" fill="#c0c0c0"/>
<rect x="158" y="556" width="1" height="1" fill="#c0c0c0"/>
<rect x="166" y="554" width="1" height="3" fill="#c0c0c0"/>
<rect x="174" y="553" width="1" height="4" fill="#c0c0c0"/>
<rect x="182" y="552" width="1" height="5" fill="#c0c0c0"/>
<rect x="190" y="551" width="1" height="6" fill="#c0c0c0"/>
<rect x="198" y="551" width="1" height="6" fill="#c0c0c0"/>
<rect x="206" y="549" width="1" height="8" fill="#c0c0c0"/>
<rect x="214" y="549" width="1" height="8" fill="#c0c0c0"/>
<rect x="222" y="550" width="1" height="7" fill="#c0c0c0"/>
<rect x="230" y="551" width="1" height="6" fill="#c0c0c0"/>
<rect x="238" y="552" width="1" height="5" fill="#c0c0c0"/>
<rect x="246" y="553" width="1" height="4" fill="#c0c0c0"/>
<rect x="254" y="556" width="1" height="1" fill="#c0c0c0"/>
<rect x="262" y="556" width="1" height="5" fill="#c0c0c0"/>
<rect x="270" y="556" width="1" height="7" fill="#c0c0c0"/>
<rect x="278" y="556" width="1" height="11" fill="#c0c0c0"/>
<rect x="286" y="556" width="1" height="17" fill="#c0c0c0"/>
<rect x="294" y="556" width="1" height="22" fill="#c0c0c0"/>
<rect x="302" y="556" width="1" height="23" fill="#c0c0c0"/>
<rect x="310" y="556" width="1" height="26" fill="#c0c0c0"/>
<rect x="318" y="556" width="1" height="26" fill="#c0c0c0"/>
<rect x="326" y="556" width="1" height="26" fill="#c0c0c0"/>
<rect x="334" y="556" width="1" height="26" fill="#c0c0c0"/>
<rect x="342" y="556" width="1" height="26" fill="#c0c0c0"/>
<rect x="350" y="556" width="1" height="25" fill="#c0c0c0"/>
<rect x="358" y="556" width="1" height="24" fill="#c0c0c0"/>
<rect x="366" y="556" width="1" height="22" fill="#c0c0c0"/>
<rect x="374" y="556" width="1" height="20" fill="#c0c0c0"/>
<rect x="382" y="556" width="1" height="17" fill="#c0c0c0"/>
<rect x="390" y="556" width="1" height="16" fill="#c0c0c0"/>
<rect x="398" y="556" width="1" height="16" fill="#c0c0c0"/>
<rect x="406" y="556" width="1" height="14" fill="#c0c0c0"/>
<rect x="414" y="556" width="1" height="12" fill="#c0c0c0"/>
<rect x="422" y="556" width="1" height="10" fill="#c0c0c0"/>
<rect x="430" y="556" width="1" height="6" fill="#c0c0c0"/>
<rect x="438" y="556" width="1" height="2" fill="#c0c0c0"/>
<rect x="446" y="555" width="1" height="2" fill="#c0c0c0"/>
<rect x="454" y="553" width="1" height="4" fill="#c0c0c0"/>
<rect x="462" y="551" width="1" height="6" fill="#c0c0c0"/>
<rect x="470" y="549" width="1" height="8" fill="#c0c0c0"/>
<rect x="478" y="548" width="1" height="9" fill="#c0c0c0"/>
<rect x="486" y="548" width="1" height="9" fill="#c0c0c0"/>
<rect x="494" y="546" width="1" height="11" fill="#c0c0c0"/>
<rect x="502" y="545" width="1" height="12" fill="#c0c0c0"/>
<rect x="510" y="545" width="1" height="12" fill="#c0c0c0"/>
<rect x="518" y="546" width="1" height="11" fill="#c0c0c0"/>
<rect x="526" y="544" width="1" height="13" fill="#c0c0c0"/>
<rect x="534" y="545" width="1" height="12" fill="#c0c0c0"/>
<rect x="542" y="545" width="1" height="12" fill="#c0c0c0"/>
<rect x="550" y="545" width="1" height="12" fill="#c0c0c0"/>
<rect x="558" y="546" width="1" height="11" fill="#c0c0c0"/>
<rect x="566" y="546" width="1" height="11" fill="#c0c0c0"/>
<rect x="574" y="546" width="1" height="11" fill="#c0c0c0"/>
<rect x="582" y="546" width="1" height="11" fill="#c0c0c0"/>
<rect x="590" y="545" width="1" height="12" fill="#c0c0c0"/>
<rect x="598" y="545" width="1" height="12" fill="#c0c0c0"/>
<rect x="606" y="544" width="1" height="13" fill="#c0c0c0"/>
<rect x="614" y="544" width="1" height="13" fill="#c0c0c0"/>
<rect x="622" y="543" width="1" height="14" fill="#c0c0c0"/>
<rect x="630" y="542" width="1" height="15" fill="#c0c0c0"/>
<rect x="638" y="538" width="1" height="19" fill="#c0c0c0"/>
<rect x="646" y="536" width="1" height="21" fill="#c0c0c0"/>
<rect x="654" y="534" width="1" height="23" fill="#c0c0c0"/>
<rect x="662" y="533" width="1" height="24" fill="#c0c0c0"/>
<rect x="670" y="531" width="1" height="26" fill="#c0c0c0"/>
<rect x="678" y="530" width="1" height="27" fill="#c0c0c0"/>
<rect x="686" y="530" width="1" height="27" fill="#c0c0c0"/>
<rect x="694" y="530" width="1" height="27" fill="#c0c0c0"/>
<rect x="702" y="531" width="1" height="26" fill="#c0c0c0"/>
<rect x="710" y="532" width="1" height="25" fill="#c0c0c0"/>
<rect x="718" y="532" width="1" height="25" fill="#c0c0c0"/>
<rect x="726" y="532" width="1" height="25" fill="#c0c0c0"/>
<rect x="734" y="534" width="1" height="23" fill="#c0c0c0"/>
<rect x="742" y="535" width="1" height="22" fill="#c0c0c0"/>
<rect x="750" y="537" width="1" height="20" fill="#c0c0c0"/>
<rect x="758" y="540" width="1" height="17" fill="#c0c0c0"/>
<rect x="766" y="543" width="1" height="14" fill="#c0c0c0"/>
<rect x="774" y="545" width="1" height="12" fill="#c0c0c0"/>
<rect x="782" y="546" width="1" height="11" fill="#c0c0c0"/>
<rect x="790" y="548" width="1" height="9" fill="#c0c0c0"/>
<rect x="798" y="548" width="1" height="9" fill="#c0c0c0"/>
<rect x="806" y="549" width="1" height="8" fill="#c0c0c0"/>
<rect x="814" y="551" width="1" height="6" fill="#c0c0c0"/>
<rect x="822" y="553" width="1" height="4" fill="#c0c0c0"/>
<rect x="830" y="553" width="1" height="4" fill="#c0c0c0"/>
<rect x="838" y="553" width="1" height="4" fill="#c0c0c0"/>
<rect x="846" y="555" width="1" height="2" fill="#c0c0c0"/>
<rect x="854" y="556" width="1" height="1" fill="#c0c0c0"/>
<rect x="862" y="556" width="1" height="1" fill="#c0c0c0"/>
<rect x="870" y="556" width="1" height="4" fill="#c0c0c0"/>
<rect x="878" y="556" width="1" height="5" fill="#c0c0c0"/>
<rect x="886" y="556" width="1" height="6" fill="#c0c0c0"/>
<rect x="894" y="556" width="1" height="7" fill="#c0c0c0"/>
<rect x="902" y="556" width="1" height="9" fill="#c0c0c0"/>
<rect x="910" y="556" width="1" height="9" fill="#c0c0c0"/>
<rect x="918" y="556" width="1" height="10" fill="#c0c0c0"/>
<rect x="926" y="556" width="1" height="11" fill="#c0c0c0"/>
<rect x="934" y="556" width="1" height="11" fill="#c0c0c0"/>
<rect x="942" y="556" width="1" height="9" fill="#c0c0c0"/>
<rect x="950" y="556" width="1" height="8" fill="#c0c0c0"/>
<rect x="958" y="556" width="1" height="7" fill="#c0c0c0"/>
<rect x="966" y="556" width="1" height="4" fill="#c0c0c0"/>
<rect x="974" y="556" width="1" height="1" fill="#c0c0c0"/>
<rect x="982" y="553" width="1" height="4" fill="#c0c0c0"/>
<rect x="990" y="551" width="1" height="6" fill="#c0c0c0"/>
<rect x="998" y="550" width="1" height="7" fill="#c0c0c0"/>
<rect x="1006" y="549" width="1" height="8" fill="#c0c0c0"/>
<rect x="1014" y="549" width="1" height="8" fill="#c0c0c0"/>
<rect x="1022" y="549" width="1" height="8" fill="#c0c0c0"/>
<rect x="1030" y="549" width="1" height="8" fill="#c0c0c0"/>
<rect x="1038" y="550" width="1" height="7" fill="#c0c0c0"/>
<rect x="1046" y="553" width="1" height="4" fill="#c0c0c0"/>
<rect x="1054" y="555" width="1" height="2" fill="#c0c0c0"/>
<rect x="1062" y="556" width="1" height="1" fill="#c0c0c0"/>
<rect x="1070" y="556" width="1" height="1" fill="#c0c0c0"/>
<rect x="1078" y="556" width="1" height="2" fill="#c0c0c0"/>
<rect x="1086" y="556" width="1" height="2" fill="#c0c0c0"/>
<rect x="1094" y="556" width="1" height="2" fill="#c0c0c0"/>
<rect x="1102" y="556" width="1" height="3" fill="#c0c0c0"/>
<rect x="1110" y="556" width="1" height="3" fill="#c0c0c0"/>
<rect x="1118" y="556" width="1" height="3" fill="#c0c0c0"/>
<rect x="1126" y="556" width="1" height="2" fill="#c0c0c0"/>
<rect x="1134" y="556" width="1" height="1" fill="#c0c0c0"/>
<rect x="1142" y="556" width="1" height="1" fill="#c0c0c0"/>
<rect x="1150" y="555" width="1" height="2" fill="#c0c0c0"/>
<rect x="1158" y="555" width="1" height="2" fill="#c0c0c0"/>
<rect x="1166" y="555" width="1" height="2" fill="#c0c0c0"/>
<rect x="1174" y="556" width="1" height="1" fill="#c0c0c0"/>
<rect x="1182" y="556" width="1" height="1" fill="#c0c0c0"/>
<rect x="1190" y="556" width="1" height="1" fill="#c0c0c0"/>
<rect x="1198" y="555" width="1" height="2" fill="#c0c0c0"/>
<rect x="1206" y="553" width="1" height="4" fill="#c0c0c0"/>
<rect x="1214" y="551" width="1" height="6" fill="#c0c0c0"/>
<rect x="1222" y="549" width="1" height="8" fill="#c0c0c0"/>
<rect x="1230" y="546" width="1" height="11" fill="#c0c0c0"/>
<rect x="1238" y="544" width="1" height="13" fill="#c0c0c0"/>
<rect x="1246" y="543" width="1" height="14" fill="#c0c0c0"/>
<rect x="1254" y="543" width="1" height="14" fill="#c0c0c0"/>
<rect x="1262" y="543" width="1" height="14" fill="#c0c0c0"/>
<rect x="1270" y="543" width="1" height="14" fill="#c0c0c0"/>
<rect x="1278" y="542" width="1" height="15" fill="#c0c0c0"/>
<rect x="1286" y="543" width="1" height="14" fill="#c0c0c0"/>
<rect x="1294" y="546" width="1" height="11" fill="#c0c0c0"/>
<rect x="1302" y="549" width="1" height="8" fill="#c0c0c0"/>
<rect x="1310" y="552" width="1" height="5" fill="#c0c0c0"/>
<rect x="1318" y="554" width="1" height="3" fill="#c0c0c0"/>
<rect x="1326" y="556" width="1" height="1" fill="#c0c0c0"/>
<rect x="1334" y="556" width="1" height="1" fill="#c0c0c0"/>
<path d="M708 531.5h3M714 531.5h3M720 531.5h3M726 531.5h3M732 531.5h3M738 531.5h3M744 531.5h3M702 532.5h3M750 532.5h3M691 533.5h2M696 533.5h3M756 533.5h3M762 533.5h1M685 534.5h2M690 534.5h1M763 534.5h2M768 534.5h1M684 535.5h1M769 535.5h2M678 536.5h3M774 536.5h3M672 537.5h3M780 537.5h1M666 538.5h3M781 538.5h2M786 538.5h1M660 539.5h3M787 539.5h2M792 539.5h1M654 540.5h3M793 540.5h2M649 541.5h2M798 541.5h3M643 542.5h2M648 542.5h1M804 542.5h3M1291 542.5h2M1296 542.5h3M630 543.5h3M636 543.5h3M642 543.5h1M810 543.5h3M1284 543.5h3M1290 543.5h1M1302 543.5h3M540 544.5h3M546 544.5h3M552 544.5h3M558 544.5h3M564 544.5h3M570 544.5h3M576 544.5h3M582 544.5h3M588 544.5h3M594 544.5h3M600 544.5h3M606 544.5h3M612 544.5h3M618 544.5h3M624 544.5h3M816 544.5h3M1278 544.5h3M1308 544.5h3M1314 544.5h1M534 545.5h3M822 545.5h3M1267 545.5h2M1272 545.5h3M1315 545.5h2M1320 545.5h3M523 546.5h2M528 546.5h3M828 546.5h1M1260 546.5h3M1266 546.5h1M1326 546.5h3M516 547.5h3M522 547.5h1M829 547.5h2M834 547.5h1M1254 547.5h3M1332 547.5h1M6 548.5h3M510 548.5h3M835 548.5h2M840 548.5h1M1249 548.5h2M1333 548.5h1M12 549.5h1M504 549.5h3M841 549.5h2M1248 549.5h1M13 550.5h2M222 550.5h3M228 550.5h3M234 550.5h3M240 550.5h3M246 550.5h3M252 550.5h3M258 550.5h1M498 550.5h3M846 550.5h3M1038 550.5h3M1044 550.5h3M1050 550.5h3M1056 550.5h3M1062 550.5h3M1242 550.5h3M18 551.5h1M217 551.5h2M259 551.5h2M264 551.5h1M493 551.5h2M852 551.5h3M858 551.5h1M1032 551.5h3M1068 551.5h3M1074 551.5h1M1236 551.5h3M19 552.5h2M211 552.5h2M216 552.5h1M265 552.5h2M492 552.5h1M859 552.5h2M864 552.5h3M1026 552.5h3M1075 552.5h2M1080 552.5h3M1230 552.5h3M24 553.5h3M204 553.5h3M210 553.5h1M270 553.5h3M488 553.5h1M870 553.5h3M1020 553.5h3M1086 553.5h3M1212 553.5h3M1218 553.5h3M1224 553.5h3M30 554.5h3M198 554.5h3M276 554.5h1M486 554.5h2M876 554.5h3M1014 554.5h3M1092 554.5h3M1098 554.5h1M1206 554.5h3M36 555.5h3M42 555.5h3M48 555.5h3M54 555.5h3M60 555.5h3M66 555.5h3M72 555.5h3M78 555.5h3M180 555.5h3M186 555.5h3M192 555.5h3M277 555.5h2M481 555.5h2M882 555.5h3M1009 555.5h2M1099 555.5h2M1104 555.5h3M1188 555.5h3M1194 555.5h3M1200 555.5h3M84 556.5h3M90 556.5h3M96 556.5h3M102 556.5h3M108 556.5h3M114 556.5h1M163 556.5h2M168 556.5h3M174 556.5h3M282 556.5h1M480 556.5h1M888 556.5h3M1008 556.5h1M1110 556.5h3M1171 556.5h2M1176 556.5h3M1182 556.5h3M115 557.5h2M120 557.5h3M126 557.5h3M150 557.5h3M156 557.5h3M162 557.5h1M283 557.5h2M475 557.5h2M894 557.5h3M1002 557.5h3M1116 557.5h3M1122 557.5h1M1147 557.5h2M1152 557.5h3M1158 557.5h3M1164 557.5h3M1170 557.5h1M132 558.5h3M138 558.5h3M144 558.5h3M474 558.5h1M900 558.5h3M906 558.5h1M997 558.5h2M1123 558.5h2M1128 558.5h3M1134 558.5h3M1140 558.5h3M1146 558.5h1M288 559.5h3M469 559.5h2M907 559.5h2M912 559.5h1M996 559.5h1M468 560.5h1M913 560.5h2M990 560.5h3M294 561.5h2M462 561.5h3M918 561.5h3M985 561.5h2M296 562.5h1M457 562.5h2M924 562.5h3M930 562.5h1M979 562.5h2M984 562.5h1M300 563.5h1M456 563.5h1M931 563.5h2M936 563.5h3M972 563.5h3M978 563.5h1M301 564.5h2M450 564.5h3M942 564.5h3M948 564.5h3M954 564.5h3M960 564.5h3M966 564.5h3M306 565.5h1M445 565.5h2M307 566.5h2M444 566.5h1M440 567.5h1M312 568.5h2M438 568.5h2M314 569.5h1M433 569.5h2M427 570.5h2M432 570.5h1M318 571.5h3M421 571.5h2M426 571.5h1M324 572.5h1M420 572.5h1M325 573.5h2M414 573.5h3M330 574.5h1M409 574.5h2M331 575.5h2M403 575.5h2M408 575.5h1M336 576.5h1M397 576.5h2M402 576.5h1M337 577.5h2M396 577.5h1M342 578.5h3M390 578.5h3M348 579.5h3M354 579.5h1M372 579.5h3M378 579.5h3M384 579.5h3M355 580.5h2M360 580.5h3M366 580.5h3" fill="none" stroke="#ff0000" stroke-width="1"/>
<line x1="7" y1="626.5" x2="1669" y2="626.5" stroke="#c0c0c0" stroke-dasharray="3 3"/>
<line x1="7" y1="675.5" x2="1669" y2="675.5" stroke="#c0c0c0" stroke-dasharray="3 3"/>
<path d="M638 618.5h1M637 619.5h1M639 619.5h1M636 620.5h1M640 620.5h1M635 621.5h1M641 621.5h1M675 621.5h4M634 622.5h1M642.5 622v2M661 622.5h14M679 622.5h1M633 623.5h1M657 623.5h4M680 623.5h1M1230 623.5h1M632 624.5h1M643 624.5h1M653 624.5h4M681 624.5h1M1229 624.5h1M1231 624.5h1M631 625.5h1M644 625.5h1M651 625.5h2M682 625.5h1M1228 625.5h1M1232 625.5h1M630 626.5h1M645 626.5h1M648 626.5h3M683 626.5h1M1227 626.5h1M1233 626.5h2M629 627.5h1M646 627.5h2M684 627.5h1M693 627.5h4M1225 627.5h2M1235 627.5h1M627 628.5h2M685 628.5h1M689 628.5h4M697 628.5h4M725 628.5h3M1224 628.5h1M1236 628.5h1M626 629.5h1M686 629.5h3M701 629.5h2M723 629.5h2M728 629.5h3M1213 629.5h6M1223 629.5h1M1237 629.5h1M625 630.5h1M703 630.5h2M720 630.5h3M731 630.5h2M1211 630.5h2M1219 630.5h4M1238 630.5h10M1278 630.5h1M623 631.5h2M705 631.5h2M717 631.5h3M733 631.5h4M1208 631.5h3M1248 631.5h2M1276 631.5h2M1279.5 631v2M622 632.5h1M707 632.5h1M715 632.5h2M737 632.5h4M974 632.5h1M1206 632.5h2M1250 632.5h2M1274 632.5h2M494 633.5h5M526 633.5h1M620 633.5h2M708 633.5h2M712 633.5h3M741 633.5h2M973 633.5h1M975 633.5h2M1204 633.5h2M1252 633.5h2M1272 633.5h2M1280.5 633v2M492 634.5h2M499 634.5h4M525.5 634v2M527 634.5h1M590 634.5h3M618 634.5h2M710 634.5h2M743 634.5h1M972 634.5h1M977 634.5h2M1202 634.5h2M1254 634.5h1M1270 634.5h2M206 635.5h1M491 635.5h1M503.5 635v2M528 635.5h1M589 635.5h1M593 635.5h4M616 635.5h2M744.5 635v2M971 635.5h1M979 635.5h1M1200 635.5h2M1255 635.5h2M1268 635.5h2M1281.5 635v2M205 636.5h1M207 636.5h2M438 636.5h5M489 636.5h2M524 636.5h1M529 636.5h2M588.5 636v2M597 636.5h19M970 636.5h1M980 636.5h2M1198 636.5h2M1257 636.5h2M1267 636.5h1M204 637.5h1M209 637.5h2M436 637.5h2M443 637.5h6M487 637.5h2M504 637.5h1M523.5 637v2M531 637.5h1M745 637.5h1M969 637.5h1M982 637.5h5M1198 637.5h1M1259 637.5h1M1265 637.5h2M1282 637.5h1M203 638.5h1M211 638.5h1M434 638.5h2M449 638.5h4M459 638.5h14M485 638.5h2M505 638.5h1M532 638.5h1M587 638.5h1M746 638.5h1M968 638.5h1M987 638.5h8M1197.5 638v2M1260 638.5h2M1263 638.5h2M1283.5 638v2M166 639.5h2M181 639.5h3M201 639.5h2M212 639.5h2M432 639.5h2M453 639.5h6M473 639.5h4M481 639.5h4M506.5 639v2M522 639.5h1M533 639.5h1M586 639.5h1M747 639.5h1M967 639.5h1M995 639.5h5M1262 639.5h1M164 640.5h2M168 640.5h3M179 640.5h2M184 640.5h2M200 640.5h1M214 640.5h1M430 640.5h2M477 640.5h4M521.5 640v2M534 640.5h3M585 640.5h1M748.5 640v2M966 640.5h1M1000 640.5h2M1134 640.5h5M1196.5 640v2M1284.5 640v2M30 641.5h1M162 641.5h2M171 641.5h2M176 641.5h3M186 641.5h2M199 641.5h1M215 641.5h2M429.5 641v2M507 641.5h1M537 641.5h4M584.5 641v2M965 641.5h1M1002 641.5h2M1132 641.5h2M1139 641.5h8M29 642.5h1M31 642.5h2M160 642.5h2M173 642.5h3M188 642.5h2M195 642.5h4M217 642.5h1M508 642.5h1M520 642.5h1M541 642.5h11M573 642.5h4M749 642.5h1M963 642.5h2M1004 642.5h2M1021 642.5h6M1131 642.5h1M1147 642.5h5M1195.5 642v2M1285.5 642v2M28 643.5h1M33 643.5h2M142 643.5h2M158 643.5h2M190 643.5h5M218 643.5h1M428 643.5h1M509.5 643v2M519.5 643v2M552 643.5h2M571 643.5h2M577 643.5h4M583 643.5h1M750 643.5h1M962 643.5h1M1006 643.5h5M1017 643.5h4M1027 643.5h4M1129 643.5h2M1152 643.5h2M27 644.5h1M35 644.5h1M141.5 644v2M144 644.5h2M156 644.5h2M219 644.5h2M427.5 644v2M554 644.5h2M568 644.5h3M581 644.5h2M751 644.5h1M797 644.5h10M961 644.5h1M1011 644.5h6M1031 644.5h1M1127 644.5h2M1154 644.5h2M1194.5 644v3M1286 644.5h1M26.5 645v2M36 645.5h2M146 645.5h2M154 645.5h2M221 645.5h1M510 645.5h9M556 645.5h2M563 645.5h5M752.5 645v2M793 645.5h4M807.5 645v2M830 645.5h1M959 645.5h2M1032 645.5h1M1126 645.5h1M1156 645.5h2M1287 645.5h1M38 646.5h2M140 646.5h1M148 646.5h2M152 646.5h2M222 646.5h9M426 646.5h1M558 646.5h5M789 646.5h4M829 646.5h1M831 646.5h1M958 646.5h1M1033 646.5h1M1125.5 646v2M1158 646.5h1M1288.5 646v2M25 647.5h1M40 647.5h2M139 647.5h1M150 647.5h2M231.5 647v2M425.5 647v2M753 647.5h1M787 647.5h2M808.5 647v2M828 647.5h1M832 647.5h1M956 647.5h2M1034.5 647v2M1159 647.5h1M1193.5 647v2M24 648.5h1M42 648.5h2M94 648.5h3M138.5 648v2M414 648.5h2M754 648.5h1M766 648.5h3M784 648.5h3M827 648.5h1M833 648.5h1M954 648.5h2M1124 648.5h1M1160 648.5h1M1289 648.5h1M14 649.5h5M23 649.5h1M44 649.5h2M61 649.5h3M93.5 649v2M97 649.5h4M232 649.5h1M412 649.5h2M416 649.5h2M424 649.5h1M755 649.5h1M764 649.5h2M769 649.5h4M779 649.5h5M809.5 649v2M826 649.5h1M834 649.5h1M952 649.5h2M1035 649.5h1M1123 649.5h1M1161 649.5h1M1192.5 649v2M1290 649.5h1M13 650.5h1M19 650.5h4M46 650.5h5M57 650.5h4M64 650.5h3M101 650.5h4M137 650.5h1M233 650.5h1M411 650.5h1M418 650.5h2M423.5 650v2M756.5 650v2M763 650.5h1M773 650.5h6M825 650.5h1M835 650.5h1M950 650.5h2M1036 650.5h1M1122.5 650v2M1162 650.5h1M1291 650.5h1M12 651.5h1M51 651.5h6M67 651.5h2M92.5 651v2M105 651.5h4M136 651.5h1M234.5 651v2M409 651.5h2M420 651.5h2M761 651.5h2M810.5 651v2M824 651.5h1M836 651.5h1M949 651.5h1M1037 651.5h1M1163 651.5h1M1191.5 651v2M1292.5 651v2M11 652.5h1M69 652.5h2M109 652.5h2M135.5 652v2M407 652.5h2M422 652.5h1M757 652.5h1M759 652.5h2M823 652.5h1M837 652.5h1M947 652.5h2M1038 652.5h1M1121 652.5h1M1164 652.5h1M1181 652.5h4M10.5 653v2M71 653.5h1M91 653.5h1M111 653.5h2M235 653.5h1M382 653.5h2M406 653.5h1M758 653.5h1M811.5 653v2M822 653.5h1M838 653.5h2M946 653.5h1M1039 653.5h1M1078 653.5h2M1120 653.5h1M1165 653.5h1M1177 653.5h4M1185 653.5h4M1190 653.5h1M1293 653.5h1M72 654.5h1M90.5 654v2M113 654.5h2M133 654.5h2M236 654.5h1M381 654.5h1M384 654.5h3M405 654.5h1M821 654.5h1M840 654.5h3M945 654.5h1M1040 654.5h1M1076 654.5h2M1080 654.5h3M1110 654.5h3M1119.5 654v2M1166 654.5h11M1189 654.5h2M1294 654.5h1M9 655.5h1M73 655.5h1M115 655.5h1M131 655.5h2M237.5 655v2M380 655.5h1M387 655.5h2M404 655.5h1M812.5 655v2M819 655.5h2M843 655.5h2M943 655.5h2M1041 655.5h1M1075 655.5h1M1083 655.5h2M1108 655.5h2M1113 655.5h4M1295 655.5h2M8 656.5h1M74 656.5h1M89 656.5h1M116 656.5h2M128 656.5h3M243 656.5h4M379 656.5h1M389 656.5h2M403 656.5h1M818 656.5h1M845 656.5h4M910 656.5h2M941 656.5h2M1042 656.5h1M1054 656.5h5M1073 656.5h2M1085 656.5h6M1107 656.5h1M1117 656.5h2M1297 656.5h2M7 657.5h1M75 657.5h1M88.5 657v2M118 657.5h10M238 657.5h5M247.5 657v2M378 657.5h1M391 657.5h2M402.5 657v2M813.5 657v2M817 657.5h1M849 657.5h4M909.5 657v2M912 657.5h2M937 657.5h4M1043 657.5h1M1052 657.5h2M1059 657.5h8M1071 657.5h2M1091 657.5h6M1105 657.5h2M1299 657.5h1M6 658.5h1M76 658.5h1M358 658.5h2M377 658.5h1M393 658.5h1M815 658.5h2M853 658.5h3M914 658.5h2M934 658.5h3M1044 658.5h1M1050 658.5h2M1067 658.5h4M1097 658.5h4M1103 658.5h2M1300 658.5h2M77 659.5h1M87.5 659v2M248.5 659v2M356 659.5h2M360 659.5h2M376 659.5h1M394 659.5h1M401 659.5h1M814 659.5h1M856 659.5h3M908.5 659v2M916 659.5h2M932 659.5h2M1045 659.5h1M1048 659.5h2M1101 659.5h2M1302 659.5h3M1323 659.5h11M78 660.5h5M354 660.5h2M362 660.5h2M375 660.5h1M395 660.5h2M400 660.5h1M859 660.5h2M883 660.5h5M918 660.5h3M930 660.5h2M1046 660.5h2M1305 660.5h4M1315 660.5h8M83 661.5h4M249.5 661v2M352 661.5h2M364 661.5h2M371 661.5h4M397 661.5h1M399 661.5h1M861 661.5h4M877 661.5h6M888 661.5h3M907.5 661v2M921 661.5h4M928 661.5h2M1309 661.5h6M350 662.5h2M366 662.5h5M398 662.5h1M865 662.5h4M873 662.5h4M891 662.5h2M925 662.5h3M250 663.5h1M349 663.5h1M869 663.5h4M893 663.5h2M906.5 663v2M251.5 664v2M348 664.5h1M895 664.5h1M347 665.5h1M896 665.5h1M905.5 665v2M252.5 666v2M262 666.5h1M346.5 666v2M897 666.5h1M260 667.5h2M263 667.5h1M898 667.5h1M904.5 667v2M253.5 668v2M258 668.5h2M264 668.5h1M345 668.5h1M899 668.5h1M256 669.5h2M265 669.5h2M318 669.5h11M344 669.5h1M900 669.5h1M903.5 669v2M254 670.5h2M267 670.5h1M317 670.5h1M329 670.5h4M343 670.5h1M901 670.5h1M268 671.5h1M316.5 671v2M333 671.5h10M902 671.5h1M269 672.5h1M270 673.5h2M315 673.5h1M272 674.5h3M314 674.5h1M275 675.5h2M313 675.5h1M277 676.5h2M294 676.5h5M312.5 676v2M279 677.5h1M293 677.5h1M299 677.5h6M280 678.5h1M292 678.5h1M305 678.5h4M311 678.5h1M281 679.5h2M291 679.5h1M309 679.5h2M283 680.5h1M289 680.5h2M284 681.5h1M288 681.5h1M285 682.5h1M287 682.5h1M286 683.5h1" fill="none" stroke="#1e90ff" stroke-width="1"/>
<rect x="1670" y="161" width="2" height="1" fill="#000"/>
<rect x="1670" y="210" width="2" height="1" fill="#000"/>
<rect x="1670" y="259" width="2" height="1" fill="#000"/>
<rect x="1670" y="308" width="2" height="1" fill="#000"/>
<rect x="1670" y="357" width="2" height="1" fill="#000"/>
<rect x="1670" y="406" width="2" height="1" fill="#000"/>
<rect x="1670" y="455" width="2" height="1" fill="#000"/>
<rect x="1670" y="504" width="2" height="1" fill="#000"/>
<rect x="1670" y="527" width="1" height="1" fill="#000"/>
<rect x="1670" y="556" width="1" height="1" fill="#000"/>
<rect x="1670" y="584" width="1" height="1" fill="#000"/>
<rect x="1670" y="589" width="1" height="1" fill="#000"/>
<rect x="1670" y="626" width="1" height="1" fill="#000"/>
<rect x="1670" y="675" width="1" height="1" fill="#000"/>
<rect x="1670" y="711" width="1" height="1" fill="#000"/>
<rect x="6" y="714" width="1" height="3" fill="#000"/>
<rect x="102" y="714" width="1" height="3" fill="#000"/>
<rect x="198" y="714" width="1" height="3" fill="#000"/>
<rect x="294" y="714" width="1" height="3" fill="#000"/>
<rect x="390" y="714" width="1" height="3" fill="#000"/>
<rect x="486" y="714" width="1" height="3" fill="#000"/>
<rect x="582" y="714" width="1" height="3" fill="#000"/>
<rect x="678" y="714" width="1" height="3" fill="#000"/>
<rect x="774" y="714" width="1" height="3" fill="#000"/>
<rect x="870" y="714" width="1" height="3" fill="#000"/>
<rect x="966" y="714" width="1" height="3" fill="#000"/>
<rect x="1062" y="714" width="1" height="3" fill="#000"/>
<rect x="1158" y="714" width="1" height="3" fill="#000"/>
<rect x="1254" y="714" width="1" height="3" fill="#000"/>
</g>
<g>
<text x="1676" y="165.6" font-size="12.5" fill="#000" textLength="38.2" lengthAdjust="spacingAndGlyphs" xml:space="preserve">3935.0</text>
<text x="1676" y="214.6" font-size="12.5" fill="#000" textLength="38.2" lengthAdjust="spacingAndGlyphs" xml:space="preserve">3884.0</text>
<text x="1676" y="263.6" font-size="12.5" fill="#000" textLength="38.2" lengthAdjust="spacingAndGlyphs" xml:space="preserve">3833.0</text>
<text x="1676" y="312.6" font-size="12.5" fill="#000" textLength="38.2" lengthAdjust="spacingAndGlyphs" xml:space="preserve">3782.0</text>
<text x="1676" y="361.6" font-size="12.5" fill="#000" textLength="38.2" lengthAdjust="spacingAndGlyphs" xml:space="preserve">3731.0</text>
<text x="1676" y="410.6" font-size="12.5" fill="#000" textLength="38.2" lengthAdjust="spacingAndGlyphs" xml:space="preserve">3680.0</text>
<text x="1676" y="459.6" font-size="12.5" fill="#000" textLength="38.2" lengthAdjust="spacingAndGlyphs" xml:space="preserve">3629.0</text>
<text x="1676" y="508.6" font-size="12.5" fill="#000" textLength="38.2" lengthAdjust="spacingAndGlyphs" xml:space="preserve">3578.0</text>
</g><g class="c">
<rect x="1671" y="59" width="49" height="14" fill="#ff0000"/>
<rect x="1671" y="107" width="49" height="14" fill="#ff0000"/>
<rect x="1671" y="166" width="49" height="14" fill="#00ff7f"/>
<rect x="1671" y="189" width="49" height="14" fill="#000000"/>
<rect x="1671" y="220" width="49" height="14" fill="#0000ff"/>
<rect x="1671" y="290" width="49" height="14" fill="#0000ff"/>
</g><g>
<text x="1676" y="71" font-size="12.5" fill="#fff" textLength="38.2" lengthAdjust="spacingAndGlyphs" xml:space="preserve">4035.0</text>
<text x="1676" y="119" font-size="12.5" fill="#fff" textLength="38.2" lengthAdjust="spacingAndGlyphs" xml:space="preserve">3985.0</text>
<text x="1676" y="178" font-size="12.5" fill="#fff" textLength="38.2" lengthAdjust="spacingAndGlyphs" xml:space="preserve">3924.0</text>
<text x="1676" y="201" font-size="12.5" fill="#fff" textLength="38.2" lengthAdjust="spacingAndGlyphs" xml:space="preserve">3899.2</text>
<text x="1676" y="232" font-size="12.5" fill="#fff" textLength="38.2" lengthAdjust="spacingAndGlyphs" xml:space="preserve">3867.5</text>
<text x="1676" y="302" font-size="12.5" fill="#fff" textLength="38.2" lengthAdjust="spacingAndGlyphs" xml:space="preserve">3795.0</text>
<text x="1673.5" y="539" font-size="12.5" fill="#000" textLength="31.5" lengthAdjust="spacingAndGlyphs" xml:space="preserve">58.05</text>
<text x="1673.5" y="560.7" font-size="12.5" fill="#000" textLength="24.5" lengthAdjust="spacingAndGlyphs" xml:space="preserve">0.00</text>
<text x="1673.5" y="582.3" font-size="12.5" fill="#000" textLength="35.5" lengthAdjust="spacingAndGlyphs" xml:space="preserve">-56.94</text>
<text x="1673.5" y="600.7" font-size="12.5" fill="#000" textLength="20" lengthAdjust="spacingAndGlyphs" xml:space="preserve">100</text>
<text x="1673.5" y="630.7" font-size="12.5" fill="#000" textLength="13" lengthAdjust="spacingAndGlyphs" xml:space="preserve">70</text>
<text x="1673.5" y="679.6" font-size="12.5" fill="#000" textLength="13" lengthAdjust="spacingAndGlyphs" xml:space="preserve">30</text>
<text x="1673.5" y="710" font-size="12.5" fill="#000" textLength="6" lengthAdjust="spacingAndGlyphs" xml:space="preserve">0</text>
<text x="24.6" y="53" font-size="12.5" fill="#000" textLength="78.5" lengthAdjust="spacingAndGlyphs" xml:space="preserve">CHINA300-,H4</text>
<text x="110.2" y="53" font-size="12.5" fill="#000" textLength="39.6" lengthAdjust="spacingAndGlyphs" xml:space="preserve">3898.1</text>
<text x="153.2" y="53" font-size="12.5" fill="#000" textLength="39.6" lengthAdjust="spacingAndGlyphs" xml:space="preserve">3901.2</text>
<text x="196.2" y="53" font-size="12.5" fill="#000" textLength="39.6" lengthAdjust="spacingAndGlyphs" xml:space="preserve">3884.2</text>
<text x="239.2" y="53" font-size="12.5" fill="#000" textLength="39.6" lengthAdjust="spacingAndGlyphs" xml:space="preserve">3899.2</text>
<text x="9.6" y="541" font-size="12.5" fill="#000" textLength="85.2" lengthAdjust="spacingAndGlyphs" xml:space="preserve">MACD(12,26,9)</text>
<text x="99" y="541" font-size="12.5" fill="#000" textLength="28.5" lengthAdjust="spacingAndGlyphs" xml:space="preserve">-1.89</text>
<text x="132.3" y="541" font-size="12.5" fill="#000" textLength="31.3" lengthAdjust="spacingAndGlyphs" xml:space="preserve">15.27</text>
<text x="9.6" y="603" font-size="12.5" fill="#000" textLength="42.2" lengthAdjust="spacingAndGlyphs" xml:space="preserve">RSI(14)</text>
<text x="55.3" y="603" font-size="12.5" fill="#000" textLength="46.5" lengthAdjust="spacingAndGlyphs" xml:space="preserve">43.1155</text>
<text x="5.5" y="729" font-size="12.5" fill="#000" xml:space="preserve">11 Jul 2019</text>
<text x="101.5" y="729" font-size="12.5" fill="#000" xml:space="preserve">19 Jul 05:00</text>
<text x="197.5" y="729" font-size="12.5" fill="#000" xml:space="preserve">29 Jul 05:00</text>
<text x="293.5" y="729" font-size="12.5" fill="#000" textLength="68.0" lengthAdjust="spacingAndGlyphs" xml:space="preserve">6 Aug 05:00</text>
<text x="389.5" y="729" font-size="12.5" fill="#000" textLength="75.4" lengthAdjust="spacingAndGlyphs" xml:space="preserve">14 Aug 05:00</text>
<text x="485.5" y="729" font-size="12.5" fill="#000" textLength="75.4" lengthAdjust="spacingAndGlyphs" xml:space="preserve">22 Aug 05:00</text>
<text x="581.5" y="729" font-size="12.5" fill="#000" textLength="75.4" lengthAdjust="spacingAndGlyphs" xml:space="preserve">30 Aug 05:00</text>
<text x="677.5" y="729" font-size="12.5" fill="#000" xml:space="preserve">9 Sep 05:00</text>
<text x="773.5" y="729" font-size="12.5" fill="#000" xml:space="preserve">18 Sep 05:00</text>
<text x="869.5" y="729" font-size="12.5" fill="#000" xml:space="preserve">26 Sep 05:00</text>
<text x="965.5" y="729" font-size="12.5" fill="#000" textLength="72.7" lengthAdjust="spacingAndGlyphs" xml:space="preserve">11 Oct 05:00</text>
<text x="1061.5" y="729" font-size="12.5" fill="#000" textLength="73.3" lengthAdjust="spacingAndGlyphs" xml:space="preserve">21 Oct 05:00</text>
<text x="1157.5" y="729" font-size="12.5" fill="#000" textLength="73.3" lengthAdjust="spacingAndGlyphs" xml:space="preserve">29 Oct 05:00</text>
<text x="1253.5" y="729" font-size="12.5" fill="#000" xml:space="preserve">6 Nov 05:00</text>
</g>
<polygon class="c" points="9,51 18,51 13.5,46" fill="#000"/>
<text transform="translate(1165.2,412.5) scale(1.008,1.04)" font-size="50" fill="#ff2010">多空转折点</text>
<text transform="translate(1417.9,409.8) scale(1.02,1.083)" font-size="50" fill="#ff2010">3924</text>
<g id="panel">
<g class="c">
<rect x="7" y="59" width="287" height="80" fill="#fff"/><rect x="6" y="64" width="1" height="1" fill="#fff"/><rect x="6" y="112" width="1" height="1" fill="#fff"/>
<rect x="9" y="61" width="283" height="76" fill="url(#gr)"/>
<rect x="77" y="61" width="147" height="27" fill="#fff"/>
<rect x="150" y="88" width="2" height="49" fill="#fff"/>
<rect x="9" y="61" width="68" height="1" fill="#c80000"/><rect x="9" y="61" width="1" height="76" fill="#c80000"/><rect x="76" y="61" width="1" height="28" fill="#c80000"/>
<rect x="224" y="61" width="68" height="1" fill="#c80000"/><rect x="224" y="61" width="1" height="28" fill="#c80000"/><rect x="291" y="61" width="1" height="76" fill="#c80000"/>
<rect x="76" y="88" width="74" height="1" fill="#c80000"/><rect x="152" y="88" width="73" height="1" fill="#c80000"/>
<rect x="13" y="87" width="60" height="1" fill="#8b0000"/><rect x="13" y="88" width="60" height="1" fill="#ff8a8a"/>
<rect x="228" y="87" width="60" height="1" fill="#8b0000"/><rect x="228" y="88" width="60" height="1" fill="#ff8a8a"/>
<!-- volume input -->
<rect x="79" y="61" width="143" height="25" fill="#a9adb8"/>
<rect x="80" y="62" width="141" height="23" fill="#fff"/>
<rect x="81" y="63" width="22" height="21" fill="url(#gb)"/>
<rect x="198" y="63" width="22" height="21" fill="url(#gb)"/>
<rect x="103" y="62" width="1" height="23" fill="#b4b4b4"/>
<rect x="197" y="62" width="1" height="23" fill="#b4b4b4"/>
</g>
<polygon points="87.8,72 95.4,72 91.6,76" fill="#5868c0"/>
<polygon points="205.2,75 212.8,75 209,71" fill="#5868c0"/>
<text transform="translate(162.6,78.7) scale(1,0.98)" font-size="15" fill="#000" textLength="31.6" lengthAdjust="spacingAndGlyphs">1.00</text>
<text x="25.6" y="79.9" font-size="15.1" fill="#fff" textLength="33.9" lengthAdjust="spacingAndGlyphs">SELL</text>
<text x="242.6" y="79.9" font-size="15.1" fill="#fff" textLength="29.6" lengthAdjust="spacingAndGlyphs">BUY</text>
<text x="39.3" y="126" font-size="15.2" font-weight="bold" fill="#fff" textLength="35.4" lengthAdjust="spacingAndGlyphs">3897</text>
<text x="77.8" y="126.1" font-size="41.5" fill="#fff">.</text>
<text transform="translate(87.2,126.1) scale(1,1.035)" font-size="41.5" fill="#fff">7</text>
<text x="181.3" y="126" font-size="15.2" font-weight="bold" fill="#fff" textLength="36.2" lengthAdjust="spacingAndGlyphs">3904</text>
<text x="220.7" y="126.1" font-size="41.5" fill="#fff">.</text>
<text transform="translate(229.5,126.1) scale(1,1.035)" font-size="41.5" fill="#fff">1</text>
</g>

</svg></body></html>
